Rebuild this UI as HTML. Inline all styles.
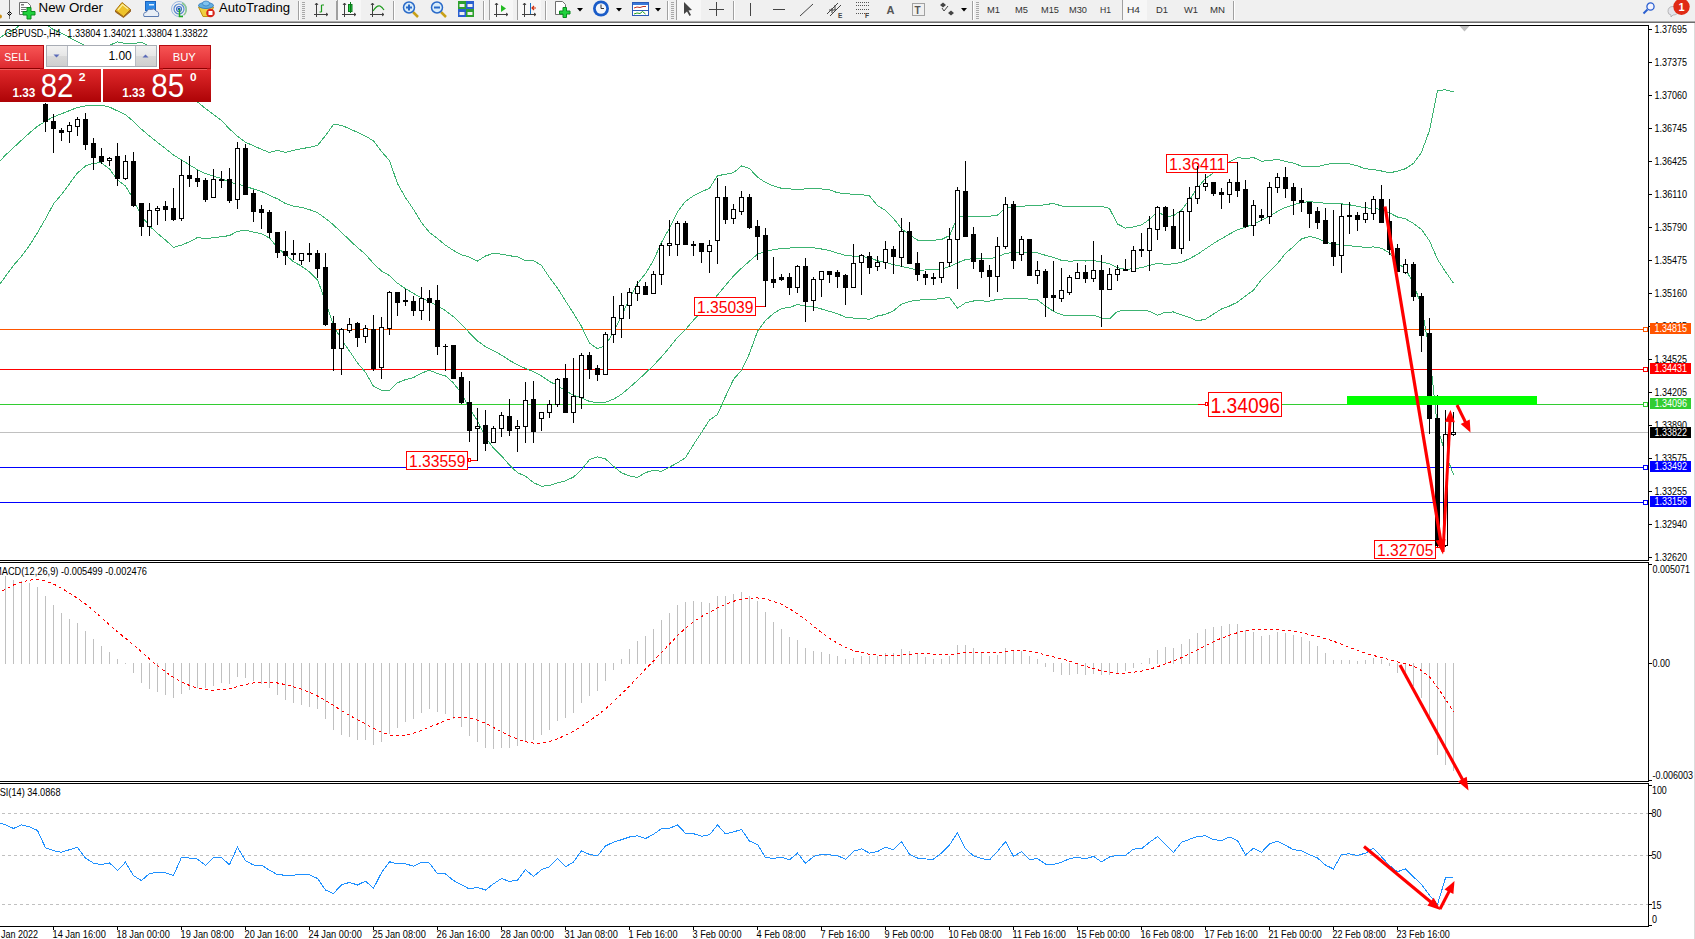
<!DOCTYPE html><html><head><meta charset="utf-8"><title>GBPUSD H4</title>
<style>html,body{margin:0;padding:0;background:#fff;width:1695px;height:939px;overflow:hidden}
svg{display:block;font-family:"Liberation Sans", sans-serif} text{font-family:"Liberation Sans", sans-serif}</style></head><body>
<svg width="1695" height="939" viewBox="0 0 1695 939">
<defs>
<linearGradient id="gbtn" x1="0" y1="0" x2="0" y2="1"><stop offset="0" stop-color="#f75454"/><stop offset="1" stop-color="#dd2a30"/></linearGradient>
<linearGradient id="gpx" x1="0" y1="0" x2="0" y2="1"><stop offset="0" stop-color="#e0292b"/><stop offset="1" stop-color="#ad0306"/></linearGradient>
<linearGradient id="gspin" x1="0" y1="0" x2="0" y2="1"><stop offset="0" stop-color="#f2f2f2"/><stop offset="0.5" stop-color="#e6e6e6"/><stop offset="0.5" stop-color="#d9d9d9"/><stop offset="1" stop-color="#cfcfcf"/></linearGradient>
</defs>
<rect x="0" y="0" width="1695" height="939" fill="#fff"/>

<g id="toolbar">
<rect x="0" y="0" width="1695" height="21" fill="#f0f0f0"/>
<rect x="0" y="21" width="1695" height="1" fill="#a9a9a9"/>
<rect x="0" y="22" width="1695" height="1" fill="#6d6d6d"/>
<g shape-rendering="geometricPrecision">
<circle cx="0" cy="16.5" r="2" fill="#c8901c"/>
<rect x="9" y="0" width="1" height="19" fill="#7a7a7a"/>
<path d="M7.5 13.5 L9.5 11.5 L11.5 13.5 L9.5 15.5Z" fill="none" stroke="#000" stroke-width="1"/>
<path d="M19.5 2.5 h8 l3 3 v9 h-11z" fill="#fff" stroke="#6e6e6e" stroke-width="1"/>
<rect x="21" y="4" width="3" height="1.5" fill="#777"/><rect x="21" y="7" width="6" height="1" fill="#777"/><rect x="21" y="9" width="5" height="1" fill="#777"/><rect x="21" y="11" width="4" height="1" fill="#777"/>
<path d="M27 7.5 h4 v4 h4 v3.5 h-4 v4 h-4 v-4 h-4 v-3.5 h4z" fill="#1ed23c" stroke="#0a8a1e" stroke-width="1"/>
<text x="38.5" y="12.2" font-size="12.3" fill="#000" font-family="Liberation Sans, sans-serif" textLength="64.5" lengthAdjust="spacingAndGlyphs">New Order</text>
<path d="M115.5 10.5 L123.5 16.5 L130.5 9.5 L130.5 11.5 L123.5 17.5 L115.5 12 Z" fill="#b87818" stroke="#8a5010" stroke-width="0.8"/>
<path d="M115.5 10.5 L122 2.5 L130.5 9.5 L123.5 16.5 Z" fill="#eec22a" stroke="#a87010" stroke-width="1"/>
<path d="M118 10 L122.5 4.5 L128 9" fill="none" stroke="#faf0a0" stroke-width="1.2"/>
<rect x="145.5" y="1.5" width="10" height="9" fill="#2e8ae6" stroke="#1a64c0"/>
<rect x="149" y="4" width="5" height="1.5" fill="#e0f0ff"/>
<path d="M144 16.5 Q142.5 12.5 146.5 12 Q147.5 8.5 151.5 9.5 Q154 7.5 156 11 Q159.5 11.5 158.5 16.5 Z" fill="#e8eef6" stroke="#5a7ab0" stroke-width="1"/>
<circle cx="179" cy="9" r="7.5" fill="none" stroke="#9ab8e0" stroke-width="1"/>
<circle cx="179" cy="9" r="5" fill="none" stroke="#5a88d0" stroke-width="1.2"/>
<circle cx="179" cy="9" r="2.5" fill="none" stroke="#3a70c8" stroke-width="1.2"/>
<circle cx="179" cy="9" r="1.3" fill="#1a50c0"/>
<path d="M179.5 9 V16.5 H183" fill="none" stroke="#22aa22" stroke-width="1.5"/>
<path d="M182 3 A7.5 7.5 0 0 1 184 15" fill="none" stroke="#8cc890" stroke-width="1.5"/>
<path d="M198.5 7 L213.5 7 L210 16.5 L203 16.5 Z" fill="#f0d040" stroke="#c09010" stroke-width="1"/>
<ellipse cx="206" cy="5.5" rx="7.5" ry="3" fill="#60aee0" stroke="#3a80c0" stroke-width="1"/>
<ellipse cx="206" cy="3.5" rx="3.5" ry="2.5" fill="#80c4f0" stroke="#3a80c0" stroke-width="0.8"/>
<circle cx="210.5" cy="13" r="4.3" fill="#d8261a"/><rect x="208.5" y="11" width="4" height="4" fill="#fff"/>
<text x="219" y="12.2" font-size="12.3" fill="#000" font-family="Liberation Sans, sans-serif" textLength="71" lengthAdjust="spacingAndGlyphs">AutoTrading</text>
<rect x="298" y="1" width="1" height="19" fill="#a0a0a0"/><rect x="299" y="1" width="1" height="19" fill="#ffffff"/>
<rect x="302" y="2" width="3" height="1" fill="#a8a8a8"/>
<rect x="302" y="4" width="3" height="1" fill="#a8a8a8"/>
<rect x="302" y="6" width="3" height="1" fill="#a8a8a8"/>
<rect x="302" y="8" width="3" height="1" fill="#a8a8a8"/>
<rect x="302" y="10" width="3" height="1" fill="#a8a8a8"/>
<rect x="302" y="12" width="3" height="1" fill="#a8a8a8"/>
<rect x="302" y="14" width="3" height="1" fill="#a8a8a8"/>
<rect x="302" y="16" width="3" height="1" fill="#a8a8a8"/>
<rect x="302" y="18" width="3" height="1" fill="#a8a8a8"/>
<path d="M316.5 3 V17 M314 14.5 H328" stroke="#404040" stroke-width="1" fill="none"/>
<path d="M315 5 L316.5 3 L318 5 M326 13 L328 14.5 L326 16" stroke="#404040" stroke-width="1" fill="none"/>
<path d="M321.5 12 H319.5 M321.5 5 V12 M321.5 5 H324" stroke="#1a9a1a" stroke-width="1.2" fill="none"/>
<rect x="336" y="1" width="1" height="19" fill="#a0a0a0"/><rect x="337" y="1" width="1" height="19" fill="#ffffff"/>
<rect x="337" y="0" width="24" height="20" fill="#f7f7f7"/><rect x="337" y="0" width="1" height="20" fill="#a0a0a0"/>
<path d="M344.5 3 V17 M342 14.5 H356" stroke="#404040" stroke-width="1" fill="none"/>
<path d="M343 5 L344.5 3 L346 5 M354 13 L356 14.5 L354 16" stroke="#404040" stroke-width="1" fill="none"/>
<rect x="348.5" y="4.5" width="3.5" height="7" fill="#22cc44" stroke="#0a7a1a"/><rect x="350" y="2" width="1" height="11" fill="#0a7a1a"/>
<path d="M372.5 3 V17 M370 14.5 H384" stroke="#404040" stroke-width="1" fill="none"/>
<path d="M371 5 L372.5 3 L374 5 M382 13 L384 14.5 L382 16" stroke="#404040" stroke-width="1" fill="none"/>
<path d="M373 11 Q377 5 380 6 Q382 7 384 10" stroke="#1a9a1a" stroke-width="1.2" fill="none"/>
<rect x="393" y="1" width="1" height="19" fill="#a0a0a0"/><rect x="394" y="1" width="1" height="19" fill="#ffffff"/>
<line x1="413" y1="12" x2="418" y2="17" stroke="#c8a018" stroke-width="2.5"/>
<circle cx="409" cy="7.5" r="5.5" fill="#d8ecfa" stroke="#2a6ac8" stroke-width="1.5"/>
<rect x="406" y="6.5" width="6" height="2" fill="#2a6ac8"/>
<rect x="408" y="4.5" width="2" height="6" fill="#2a6ac8"/>
<line x1="441" y1="12" x2="446" y2="17" stroke="#c8a018" stroke-width="2.5"/>
<circle cx="437" cy="7.5" r="5.5" fill="#d8ecfa" stroke="#2a6ac8" stroke-width="1.5"/>
<rect x="434" y="6.5" width="6" height="2" fill="#2a6ac8"/>
<rect x="458" y="1" width="8" height="8" fill="#2ea02e"/><rect x="466" y="1" width="8" height="8" fill="#2a60d0"/><rect x="458" y="9" width="8" height="8" fill="#2a60d0"/><rect x="466" y="9" width="8" height="8" fill="#2ea02e"/>
<rect x="459.5" y="4" width="5" height="3" fill="#f0f0f0"/>
<rect x="467.5" y="4" width="5" height="3" fill="#f0f0f0"/>
<rect x="459.5" y="12" width="5" height="3" fill="#f0f0f0"/>
<rect x="467.5" y="12" width="5" height="3" fill="#f0f0f0"/>
<rect x="483" y="1" width="1" height="19" fill="#a0a0a0"/><rect x="484" y="1" width="1" height="19" fill="#ffffff"/>
<rect x="489" y="0" width="24" height="20" fill="#f7f7f7"/><rect x="489" y="0" width="1" height="20" fill="#a0a0a0"/>
<path d="M496.5 3 V17 M494 14.5 H508" stroke="#404040" stroke-width="1" fill="none"/>
<path d="M495 5 L496.5 3 L498 5 M506 13 L508 14.5 L506 16" stroke="#404040" stroke-width="1" fill="none"/>
<polygon points="501,5 506,8.5 501,12" fill="#22bb22"/>
<rect x="517" y="0" width="24" height="20" fill="#f7f7f7"/><rect x="517" y="0" width="1" height="20" fill="#a0a0a0"/>
<path d="M524.5 3 V17 M522 14.5 H536" stroke="#404040" stroke-width="1" fill="none"/>
<path d="M523 5 L524.5 3 L526 5 M534 13 L536 14.5 L534 16" stroke="#404040" stroke-width="1" fill="none"/>
<rect x="530" y="3" width="1" height="11" fill="#1a70c0"/><path d="M536 8 H532 M534 6 L532 8 L534 10" stroke="#d03010" stroke-width="1.2" fill="none"/>
<rect x="545" y="1" width="1" height="19" fill="#a0a0a0"/><rect x="546" y="1" width="1" height="19" fill="#ffffff"/>
<path d="M555.5 1.5 h7 l3 3 v10 h-10z" fill="#fff" stroke="#6e6e6e" stroke-width="1"/>
<path d="M563 7.5 h3.5 v3.5 h3.5 v3 h-3.5 v3.5 h-3.5 v-3.5 h-3.5 v-3 h3.5z" fill="#1ed23c" stroke="#0a8a1e" stroke-width="1"/>
<polygon points="577,8 583,8 580,11.5" fill="#000"/>
<circle cx="601" cy="8.5" r="8" fill="#1a5cc8"/><circle cx="601" cy="8.5" r="5.2" fill="#f4f6fa"/><path d="M601 4.5 V8.5 H604" stroke="#333" stroke-width="1" fill="none"/>
<polygon points="616,8 622,8 619,11.5" fill="#000"/>
<rect x="632.5" y="2.5" width="16" height="13" fill="#fff" stroke="#2a5ab8" stroke-width="1"/><rect x="633" y="3" width="15" height="2" fill="#3a78d8"/>
<rect x="633" y="10" width="15" height="1" fill="#2a5ab8"/><path d="M634 8 L637 7 L640 7.5 L643 6.5 L646 6.5" stroke="#c03020" stroke-width="1" fill="none"/><path d="M634 14 L637 13 L640 13.5 L642.5 11.5 L645.5 14" stroke="#20a020" stroke-width="1" fill="none"/>
<polygon points="655,8 661,8 658,11.5" fill="#000"/>
<rect x="667" y="1" width="1" height="19" fill="#a0a0a0"/><rect x="668" y="1" width="1" height="19" fill="#ffffff"/>
<rect x="671" y="2" width="3" height="1" fill="#a8a8a8"/>
<rect x="671" y="4" width="3" height="1" fill="#a8a8a8"/>
<rect x="671" y="6" width="3" height="1" fill="#a8a8a8"/>
<rect x="671" y="8" width="3" height="1" fill="#a8a8a8"/>
<rect x="671" y="10" width="3" height="1" fill="#a8a8a8"/>
<rect x="671" y="12" width="3" height="1" fill="#a8a8a8"/>
<rect x="671" y="14" width="3" height="1" fill="#a8a8a8"/>
<rect x="671" y="16" width="3" height="1" fill="#a8a8a8"/>
<rect x="671" y="18" width="3" height="1" fill="#a8a8a8"/>
<rect x="676" y="0" width="25" height="20" fill="#f7f7f7"/><rect x="676" y="0" width="1" height="20" fill="#a0a0a0"/>
<path d="M684 2 L684 14 L687 11.5 L689.5 16 L691 15 L688.5 10.5 L692 10 Z" fill="#444"/>
<path d="M716.5 2 V16 M709 9.5 H724" stroke="#444" stroke-width="1" fill="none"/>
<rect x="733" y="1" width="1" height="19" fill="#a0a0a0"/><rect x="734" y="1" width="1" height="19" fill="#ffffff"/>
<rect x="750" y="3" width="1" height="13" fill="#444"/>
<rect x="773" y="9" width="12" height="1" fill="#444"/>
<line x1="800" y1="16" x2="813" y2="4" stroke="#444" stroke-width="1"/>
<path d="M827 14 L838 3 M830 16 L841 5 M829 10 H836 M832 8 V13 M835 5 V10" stroke="#444" stroke-width="1" fill="none"/>
<text x="838" y="18" font-size="6.5" font-weight="bold" fill="#444" font-family="Liberation Sans, sans-serif">E</text>
<rect x="856" y="2" width="1" height="1" fill="#555"/>
<rect x="858" y="2" width="1" height="1" fill="#555"/>
<rect x="860" y="2" width="1" height="1" fill="#555"/>
<rect x="862" y="2" width="1" height="1" fill="#555"/>
<rect x="864" y="2" width="1" height="1" fill="#555"/>
<rect x="866" y="2" width="1" height="1" fill="#555"/>
<rect x="868" y="2" width="1" height="1" fill="#555"/>
<rect x="856" y="5" width="1" height="1" fill="#555"/>
<rect x="858" y="5" width="1" height="1" fill="#555"/>
<rect x="860" y="5" width="1" height="1" fill="#555"/>
<rect x="862" y="5" width="1" height="1" fill="#555"/>
<rect x="864" y="5" width="1" height="1" fill="#555"/>
<rect x="866" y="5" width="1" height="1" fill="#555"/>
<rect x="868" y="5" width="1" height="1" fill="#555"/>
<rect x="856" y="9" width="1" height="1" fill="#555"/>
<rect x="858" y="9" width="1" height="1" fill="#555"/>
<rect x="860" y="9" width="1" height="1" fill="#555"/>
<rect x="862" y="9" width="1" height="1" fill="#555"/>
<rect x="864" y="9" width="1" height="1" fill="#555"/>
<rect x="866" y="9" width="1" height="1" fill="#555"/>
<rect x="868" y="9" width="1" height="1" fill="#555"/>
<rect x="856" y="13" width="1" height="1" fill="#555"/>
<rect x="858" y="13" width="1" height="1" fill="#555"/>
<rect x="860" y="13" width="1" height="1" fill="#555"/>
<rect x="862" y="13" width="1" height="1" fill="#555"/>
<rect x="864" y="13" width="1" height="1" fill="#555"/>
<rect x="866" y="13" width="1" height="1" fill="#555"/>
<rect x="868" y="13" width="1" height="1" fill="#555"/>
<text x="865" y="18" font-size="6.5" font-weight="bold" fill="#444" font-family="Liberation Sans, sans-serif">F</text>
<text x="886.5" y="14" font-size="11" font-weight="bold" fill="#555" font-family="Liberation Sans, sans-serif">A</text>
<rect x="912.5" y="3.5" width="12" height="12" fill="none" stroke="#555" stroke-width="1" stroke-dasharray="1,1"/>
<text x="914.5" y="13.5" font-size="10" font-weight="bold" fill="#555" font-family="Liberation Sans, sans-serif">T</text>
<path d="M940 5 L943 2.5 L946 5 L943 7.5Z M948 13 L951 10.5 L954 13 L951 15.5Z" fill="#444"/><path d="M942 8 L944 11 L948 6" stroke="#444" stroke-width="1" fill="none"/>
<polygon points="961,8 967,8 964,11.5" fill="#000"/>
<rect x="972" y="1" width="1" height="19" fill="#a0a0a0"/><rect x="973" y="1" width="1" height="19" fill="#ffffff"/>
<rect x="976" y="2" width="3" height="1" fill="#a8a8a8"/>
<rect x="976" y="4" width="3" height="1" fill="#a8a8a8"/>
<rect x="976" y="6" width="3" height="1" fill="#a8a8a8"/>
<rect x="976" y="8" width="3" height="1" fill="#a8a8a8"/>
<rect x="976" y="10" width="3" height="1" fill="#a8a8a8"/>
<rect x="976" y="12" width="3" height="1" fill="#a8a8a8"/>
<rect x="976" y="14" width="3" height="1" fill="#a8a8a8"/>
<rect x="976" y="16" width="3" height="1" fill="#a8a8a8"/>
<rect x="976" y="18" width="3" height="1" fill="#a8a8a8"/>
<rect x="1122" y="0" width="25" height="20" fill="#f7f7f7"/><rect x="1122" y="0" width="1" height="20" fill="#a0a0a0"/>
<text x="987" y="13" font-size="9.8" fill="#333" font-family="Liberation Sans, sans-serif" textLength="13" lengthAdjust="spacingAndGlyphs">M1</text>
<text x="1015" y="13" font-size="9.8" fill="#333" font-family="Liberation Sans, sans-serif" textLength="13" lengthAdjust="spacingAndGlyphs">M5</text>
<text x="1041" y="13" font-size="9.8" fill="#333" font-family="Liberation Sans, sans-serif" textLength="18" lengthAdjust="spacingAndGlyphs">M15</text>
<text x="1069" y="13" font-size="9.8" fill="#333" font-family="Liberation Sans, sans-serif" textLength="18" lengthAdjust="spacingAndGlyphs">M30</text>
<text x="1100" y="13" font-size="9.8" fill="#333" font-family="Liberation Sans, sans-serif" textLength="11" lengthAdjust="spacingAndGlyphs">H1</text>
<text x="1127" y="13" font-size="9.8" fill="#333" font-family="Liberation Sans, sans-serif" textLength="13" lengthAdjust="spacingAndGlyphs">H4</text>
<text x="1156" y="13" font-size="9.8" fill="#333" font-family="Liberation Sans, sans-serif" textLength="12" lengthAdjust="spacingAndGlyphs">D1</text>
<text x="1184" y="13" font-size="9.8" fill="#333" font-family="Liberation Sans, sans-serif" textLength="14" lengthAdjust="spacingAndGlyphs">W1</text>
<text x="1210" y="13" font-size="9.8" fill="#333" font-family="Liberation Sans, sans-serif" textLength="15" lengthAdjust="spacingAndGlyphs">MN</text>
<rect x="1233" y="1" width="1" height="19" fill="#a0a0a0"/><rect x="1234" y="1" width="1" height="19" fill="#ffffff"/>
<line x1="1647.5" y1="9.5" x2="1643.5" y2="13.5" stroke="#2a5fd0" stroke-width="2"/><circle cx="1650.5" cy="6.5" r="3.6" fill="#f4f4ff" stroke="#2a5fd0" stroke-width="1.3"/>
<path d="M1668 11.5 Q1668 6.5 1673 6.5 Q1678 6.5 1678 11 Q1678 15 1673 15 L1671 17 L1671 15 Q1668 14.5 1668 11.5Z" fill="#e4e4ea" stroke="#a8a8a8" stroke-width="0.8"/>
<circle cx="1681.5" cy="6.8" r="8.2" fill="#e02a14"/>
<text x="1681.5" y="11" font-size="11" font-weight="bold" fill="#fff" text-anchor="middle" font-family="Liberation Serif, serif">1</text>
</g>
</g>
<rect x="1694" y="23" width="1" height="916" fill="#dcdcdc"/>
<g shape-rendering="crispEdges">
<rect x="0" y="25" width="1649" height="1" fill="#000"/>
<rect x="1648" y="25" width="1" height="536" fill="#000"/>
<rect x="0" y="560" width="1649" height="1" fill="#000"/>
<rect x="0" y="562" width="1649" height="1" fill="#000"/>
<rect x="1648" y="562" width="1" height="220" fill="#000"/>
<rect x="0" y="781" width="1649" height="1" fill="#000"/>
<rect x="0" y="783" width="1649" height="1" fill="#000"/>
<rect x="1648" y="783" width="1" height="144" fill="#000"/>
<rect x="0" y="926" width="1649" height="1" fill="#000"/>
</g>
<g shape-rendering="crispEdges">
<rect x="1649" y="29" width="3" height="1" fill="#000"/>
<rect x="1649" y="62" width="3" height="1" fill="#000"/>
<rect x="1649" y="95" width="3" height="1" fill="#000"/>
<rect x="1649" y="128" width="3" height="1" fill="#000"/>
<rect x="1649" y="161" width="3" height="1" fill="#000"/>
<rect x="1649" y="194" width="3" height="1" fill="#000"/>
<rect x="1649" y="227" width="3" height="1" fill="#000"/>
<rect x="1649" y="260" width="3" height="1" fill="#000"/>
<rect x="1649" y="293" width="3" height="1" fill="#000"/>
<rect x="1649" y="326" width="3" height="1" fill="#000"/>
<rect x="1649" y="359" width="3" height="1" fill="#000"/>
<rect x="1649" y="392" width="3" height="1" fill="#000"/>
<rect x="1649" y="425" width="3" height="1" fill="#000"/>
<rect x="1649" y="458" width="3" height="1" fill="#000"/>
<rect x="1649" y="491" width="3" height="1" fill="#000"/>
<rect x="1649" y="524" width="3" height="1" fill="#000"/>
<rect x="1649" y="557" width="3" height="1" fill="#000"/>
</g>
<text x="1654.5" y="33.1" font-size="10.4" fill="#000" textLength="32.5" lengthAdjust="spacingAndGlyphs">1.37695</text>
<text x="1654.5" y="66.4" font-size="10.4" fill="#000" textLength="32.5" lengthAdjust="spacingAndGlyphs">1.37375</text>
<text x="1654.5" y="99.2" font-size="10.4" fill="#000" textLength="32.5" lengthAdjust="spacingAndGlyphs">1.37060</text>
<text x="1654.5" y="131.9" font-size="10.4" fill="#000" textLength="32.5" lengthAdjust="spacingAndGlyphs">1.36745</text>
<text x="1654.5" y="165.2" font-size="10.4" fill="#000" textLength="32.5" lengthAdjust="spacingAndGlyphs">1.36425</text>
<text x="1654.5" y="198.0" font-size="10.4" fill="#000" textLength="32.5" lengthAdjust="spacingAndGlyphs">1.36110</text>
<text x="1654.5" y="231.3" font-size="10.4" fill="#000" textLength="32.5" lengthAdjust="spacingAndGlyphs">1.35790</text>
<text x="1654.5" y="264.1" font-size="10.4" fill="#000" textLength="32.5" lengthAdjust="spacingAndGlyphs">1.35475</text>
<text x="1654.5" y="296.8" font-size="10.4" fill="#000" textLength="32.5" lengthAdjust="spacingAndGlyphs">1.35160</text>
<text x="1654.5" y="329.6" font-size="10.4" fill="#000" textLength="32.5" lengthAdjust="spacingAndGlyphs">1.34845</text>
<text x="1654.5" y="362.9" font-size="10.4" fill="#000" textLength="32.5" lengthAdjust="spacingAndGlyphs">1.34525</text>
<text x="1654.5" y="396.2" font-size="10.4" fill="#000" textLength="32.5" lengthAdjust="spacingAndGlyphs">1.34205</text>
<text x="1654.5" y="429.0" font-size="10.4" fill="#000" textLength="32.5" lengthAdjust="spacingAndGlyphs">1.33890</text>
<text x="1654.5" y="461.7" font-size="10.4" fill="#000" textLength="32.5" lengthAdjust="spacingAndGlyphs">1.33575</text>
<text x="1654.5" y="495.0" font-size="10.4" fill="#000" textLength="32.5" lengthAdjust="spacingAndGlyphs">1.33255</text>
<text x="1654.5" y="527.8" font-size="10.4" fill="#000" textLength="32.5" lengthAdjust="spacingAndGlyphs">1.32940</text>
<text x="1654.5" y="561.1" font-size="10.4" fill="#000" textLength="32.5" lengthAdjust="spacingAndGlyphs">1.32620</text>
<clipPath id="cm"><rect x="0" y="26" width="1648" height="534"/></clipPath>
<clipPath id="cmacd"><rect x="0" y="563" width="1648" height="218"/></clipPath>
<clipPath id="crsi"><rect x="0" y="784" width="1648" height="142"/></clipPath>
<g clip-path="url(#cm)">
<g shape-rendering="crispEdges">
<rect x="0" y="329" width="1648" height="1" fill="#ff5500"/>
<rect x="1643.5" y="327.5" width="4" height="4" fill="#fff" stroke="#ff5500" stroke-width="1"/>
<rect x="0" y="369" width="1648" height="1" fill="#ff0000"/>
<rect x="1643.5" y="367.5" width="4" height="4" fill="#fff" stroke="#ff0000" stroke-width="1"/>
<rect x="0" y="404" width="1648" height="1" fill="#32cd32"/>
<rect x="1643.5" y="402.5" width="4" height="4" fill="#fff" stroke="#32cd32" stroke-width="1"/>
<rect x="0" y="432" width="1648" height="1" fill="#c0c0c0"/>
<rect x="0" y="467" width="1648" height="1" fill="#0000ff"/>
<rect x="1643.5" y="465.5" width="4" height="4" fill="#fff" stroke="#0000ff" stroke-width="1"/>
<rect x="0" y="502" width="1648" height="1" fill="#0000ff"/>
<rect x="1643.5" y="500.5" width="4" height="4" fill="#fff" stroke="#0000ff" stroke-width="1"/>
</g>
<polyline points="-2.5,39.7 5.5,33.9 13.5,30.0 21.5,24.1 29.5,20.6 37.5,19.6 45.5,23.7 53.5,29.7 61.5,33.2 69.5,37.5 77.5,41.9 85.5,45.7 93.5,47.4 101.5,47.5 109.5,45.3 117.5,41.9 125.5,43.4 133.5,43.5 141.5,42.4 149.5,46.0 157.5,51.3 165.5,57.1 173.5,62.6 181.5,74.8 189.5,88.0 197.5,101.9 205.5,108.5 213.5,114.5 221.5,120.4 229.5,129.0 237.5,136.2 245.5,142.2 253.5,145.8 261.5,149.3 269.5,152.5 277.5,150.4 285.5,152.5 293.5,150.4 301.5,148.6 309.5,147.4 317.5,145.5 325.5,135.5 333.5,124.5 341.5,125.3 349.5,128.7 357.5,132.4 365.5,136.1 373.5,140.9 381.5,151.6 389.5,160.5 397.5,183.6 405.5,197.6 413.5,209.5 421.5,222.6 429.5,232.5 437.5,238.5 445.5,245.2 453.5,250.5 461.5,254.8 469.5,257.1 477.5,261.1 485.5,256.0 493.5,253.3 501.5,254.2 509.5,255.7 517.5,256.9 525.5,260.9 533.5,260.6 541.5,265.5 549.5,277.5 557.5,288.0 565.5,300.9 573.5,313.3 581.5,326.4 589.5,343.1 597.5,348.7 605.5,345.5 613.5,332.1 621.5,315.7 629.5,299.0 637.5,283.6 645.5,273.5 653.5,260.4 661.5,242.4 669.5,228.0 677.5,211.9 685.5,201.3 693.5,195.8 701.5,191.8 709.5,188.3 717.5,175.6 725.5,174.4 733.5,172.7 741.5,166.0 749.5,168.6 757.5,177.1 765.5,182.5 773.5,185.9 781.5,188.3 789.5,188.8 797.5,189.7 805.5,188.8 813.5,188.6 821.5,189.0 829.5,189.7 837.5,192.8 845.5,193.4 853.5,194.4 861.5,194.7 869.5,195.8 877.5,205.7 885.5,210.3 893.5,218.5 901.5,228.6 909.5,234.9 917.5,240.1 925.5,240.1 933.5,240.2 941.5,239.5 949.5,235.6 957.5,217.4 965.5,216.2 973.5,216.3 981.5,216.3 989.5,216.2 997.5,215.2 1005.5,207.4 1013.5,207.3 1021.5,206.1 1029.5,205.9 1037.5,205.8 1045.5,204.6 1053.5,203.4 1061.5,206.0 1069.5,206.2 1077.5,206.2 1085.5,206.2 1093.5,206.1 1101.5,206.1 1109.5,208.6 1117.5,224.0 1125.5,228.1 1133.5,226.9 1141.5,224.9 1149.5,219.4 1157.5,211.4 1165.5,216.8 1173.5,215.7 1181.5,210.1 1189.5,199.7 1197.5,187.9 1205.5,178.4 1213.5,172.9 1221.5,168.5 1229.5,162.0 1237.5,157.6 1245.5,158.5 1253.5,157.6 1261.5,161.2 1269.5,160.6 1277.5,159.2 1285.5,161.4 1293.5,163.2 1301.5,166.1 1309.5,167.0 1317.5,166.7 1325.5,164.7 1333.5,163.2 1341.5,163.2 1349.5,163.8 1357.5,165.9 1365.5,168.8 1373.5,169.5 1381.5,171.0 1389.5,172.9 1397.5,171.1 1405.5,168.7 1413.5,163.4 1421.5,152.3 1429.5,130.4 1437.5,90.3 1445.5,89.9 1453.5,91.9" fill="none" stroke="#3cb371" stroke-width="1" shape-rendering="crispEdges"/>
<polyline points="-2.5,163.5 5.5,155.1 13.5,147.7 21.5,140.2 29.5,133.0 37.5,126.2 45.5,121.3 53.5,116.8 61.5,113.8 69.5,110.6 77.5,107.4 85.5,105.9 93.5,105.3 101.5,105.2 109.5,107.1 117.5,110.9 125.5,114.7 133.5,121.5 141.5,129.2 149.5,136.0 157.5,142.4 165.5,148.6 173.5,155.0 181.5,160.0 189.5,164.9 197.5,169.7 205.5,173.6 213.5,176.1 221.5,178.6 229.5,182.3 237.5,183.8 245.5,186.3 253.5,189.0 261.5,191.5 269.5,195.2 277.5,198.9 285.5,203.6 293.5,206.1 301.5,207.4 309.5,209.6 317.5,212.7 325.5,218.4 333.5,224.9 341.5,232.6 349.5,239.9 357.5,247.7 365.5,254.2 373.5,263.6 381.5,271.0 389.5,275.6 397.5,283.2 405.5,288.6 413.5,293.5 421.5,297.9 429.5,301.4 437.5,306.0 445.5,310.6 453.5,316.8 461.5,324.2 469.5,332.9 477.5,340.9 485.5,346.8 493.5,350.7 501.5,355.1 509.5,360.4 517.5,364.8 525.5,368.5 533.5,371.6 541.5,375.9 549.5,381.5 557.5,385.4 565.5,390.9 573.5,395.2 581.5,398.0 589.5,401.4 597.5,402.8 605.5,402.2 613.5,399.2 621.5,394.3 629.5,387.5 637.5,380.5 645.5,373.1 653.5,365.4 661.5,356.9 669.5,347.5 677.5,337.4 685.5,329.5 693.5,320.2 701.5,312.1 709.5,304.2 717.5,295.1 725.5,285.4 733.5,276.1 741.5,268.2 749.5,261.1 757.5,254.2 765.5,251.5 773.5,249.7 781.5,248.4 789.5,248.1 797.5,247.1 805.5,247.5 813.5,247.7 821.5,249.0 829.5,250.5 837.5,253.2 845.5,255.3 853.5,256.2 861.5,256.5 869.5,257.6 877.5,260.8 885.5,262.4 893.5,264.7 901.5,266.4 909.5,268.2 917.5,270.1 925.5,270.0 933.5,269.8 941.5,269.0 949.5,266.6 957.5,262.8 965.5,259.6 973.5,258.6 981.5,258.6 989.5,258.7 997.5,257.2 1005.5,253.1 1013.5,252.9 1021.5,252.1 1029.5,252.6 1037.5,252.9 1045.5,255.3 1053.5,257.4 1061.5,260.4 1069.5,261.1 1077.5,260.9 1085.5,261.0 1093.5,260.6 1101.5,262.0 1109.5,263.7 1117.5,267.7 1125.5,269.3 1133.5,268.8 1141.5,267.7 1149.5,265.3 1157.5,263.3 1165.5,264.4 1173.5,263.8 1181.5,262.4 1189.5,258.6 1197.5,254.4 1205.5,248.8 1213.5,243.5 1221.5,238.7 1229.5,234.0 1237.5,229.9 1245.5,227.2 1253.5,224.0 1261.5,220.4 1269.5,216.0 1277.5,211.4 1285.5,207.4 1293.5,204.8 1301.5,202.5 1309.5,201.7 1317.5,202.5 1325.5,203.3 1333.5,203.7 1341.5,203.9 1349.5,204.8 1357.5,206.4 1365.5,207.9 1373.5,208.3 1381.5,209.6 1389.5,212.9 1397.5,217.0 1405.5,218.9 1413.5,223.5 1421.5,229.4 1429.5,240.9 1437.5,259.3 1445.5,271.7 1453.5,283.3" fill="none" stroke="#3cb371" stroke-width="1" shape-rendering="crispEdges"/>
<polyline points="-2.5,287.4 5.5,276.3 13.5,265.4 21.5,256.3 29.5,245.4 37.5,232.7 45.5,218.8 53.5,203.9 61.5,194.4 69.5,183.7 77.5,173.0 85.5,166.0 93.5,163.1 101.5,162.9 109.5,168.9 117.5,179.9 125.5,185.9 133.5,199.5 141.5,216.0 149.5,225.9 157.5,233.5 165.5,240.0 173.5,247.4 181.5,245.1 189.5,241.8 197.5,237.5 205.5,238.6 213.5,237.8 221.5,236.7 229.5,235.6 237.5,231.3 245.5,230.3 253.5,232.1 261.5,233.8 269.5,238.0 277.5,247.5 285.5,254.7 293.5,261.7 301.5,266.2 309.5,271.9 317.5,279.8 325.5,301.3 333.5,325.3 341.5,339.9 349.5,351.1 357.5,363.0 365.5,372.3 373.5,386.3 381.5,390.3 389.5,390.7 397.5,382.8 405.5,379.6 413.5,377.6 421.5,373.1 429.5,370.2 437.5,373.6 445.5,375.9 453.5,383.0 461.5,393.6 469.5,408.8 477.5,420.6 485.5,437.5 493.5,448.2 501.5,455.9 509.5,465.1 517.5,472.7 525.5,476.1 533.5,482.6 541.5,486.3 549.5,485.5 557.5,482.8 565.5,480.8 573.5,477.1 581.5,469.6 589.5,459.7 597.5,456.8 605.5,458.9 613.5,466.3 621.5,472.9 629.5,475.9 637.5,477.4 645.5,472.6 653.5,470.3 661.5,471.4 669.5,467.1 677.5,462.8 685.5,457.8 693.5,444.6 701.5,432.5 709.5,420.0 717.5,414.5 725.5,396.5 733.5,379.4 741.5,370.3 749.5,353.5 757.5,331.3 765.5,320.5 773.5,313.5 781.5,308.5 789.5,307.5 797.5,304.5 805.5,306.1 813.5,306.8 821.5,309.0 829.5,311.4 837.5,313.6 845.5,317.3 853.5,318.1 861.5,318.3 869.5,319.3 877.5,316.0 885.5,314.4 893.5,310.8 901.5,304.2 909.5,301.4 917.5,300.1 925.5,299.8 933.5,299.4 941.5,298.4 949.5,297.6 957.5,308.2 965.5,302.9 973.5,301.0 981.5,300.9 989.5,301.2 997.5,299.3 1005.5,298.9 1013.5,298.6 1021.5,298.1 1029.5,299.2 1037.5,300.0 1045.5,306.1 1053.5,311.4 1061.5,314.8 1069.5,315.9 1077.5,315.7 1085.5,315.8 1093.5,315.1 1101.5,317.9 1109.5,318.9 1117.5,311.3 1125.5,310.5 1133.5,310.6 1141.5,310.4 1149.5,311.2 1157.5,315.3 1165.5,312.1 1173.5,312.0 1181.5,314.8 1189.5,317.5 1197.5,320.9 1205.5,319.1 1213.5,314.1 1221.5,309.0 1229.5,306.0 1237.5,302.1 1245.5,295.9 1253.5,290.3 1261.5,279.6 1269.5,271.4 1277.5,263.6 1285.5,253.4 1293.5,246.5 1301.5,238.9 1309.5,236.5 1317.5,238.3 1325.5,241.9 1333.5,244.2 1341.5,244.7 1349.5,245.7 1357.5,246.9 1365.5,247.1 1373.5,247.0 1381.5,248.3 1389.5,253.0 1397.5,262.9 1405.5,269.1 1413.5,283.5 1421.5,306.4 1429.5,351.4 1437.5,428.3 1445.5,453.5 1453.5,474.7" fill="none" stroke="#3cb371" stroke-width="1" shape-rendering="crispEdges"/>
</g>
<g clip-path="url(#cm)">
<rect x="1228" y="162" width="10" height="1" fill="#ff0000" shape-rendering="crispEdges"/>
<rect x="1166.5" y="154.5" width="61" height="18" fill="#fff" stroke="#ff0000" stroke-width="1" shape-rendering="crispEdges"/>
<text x="1169" y="170" font-size="16.5" fill="#ff0000" textLength="56.5" lengthAdjust="spacingAndGlyphs">1.36411</text>
<rect x="756" y="306" width="10" height="1" fill="#ff0000" shape-rendering="crispEdges"/>
<rect x="694.5" y="297.5" width="61" height="18" fill="#fff" stroke="#ff0000" stroke-width="1" shape-rendering="crispEdges"/>
<text x="697" y="313" font-size="16.5" fill="#ff0000" textLength="56.5" lengthAdjust="spacingAndGlyphs">1.35039</text>
<rect x="468" y="460" width="10" height="1" fill="#ff0000" shape-rendering="crispEdges"/>
<rect x="468.5" y="458.5" width="2" height="3" fill="#fff" stroke="#ff0000" shape-rendering="crispEdges"/>
<rect x="406.5" y="451.5" width="61" height="18" fill="#fff" stroke="#ff0000" stroke-width="1" shape-rendering="crispEdges"/>
<text x="409" y="467" font-size="16.5" fill="#ff0000" textLength="56.5" lengthAdjust="spacingAndGlyphs">1.33559</text>
<rect x="1436" y="547" width="8" height="1" fill="#ff0000" shape-rendering="crispEdges"/>
<rect x="1374.5" y="540.5" width="61" height="18" fill="#fff" stroke="#ff0000" stroke-width="1" shape-rendering="crispEdges"/>
<text x="1377" y="556" font-size="16.5" fill="#ff0000" textLength="56.5" lengthAdjust="spacingAndGlyphs">1.32705</text>
<rect x="1198" y="404" width="10" height="1" fill="#ff0000" shape-rendering="crispEdges"/>
<rect x="1205.5" y="402.5" width="2" height="3" fill="#fff" stroke="#ff0000" shape-rendering="crispEdges"/>
<rect x="1208.5" y="392.5" width="73" height="24" fill="#fff" stroke="#ff0000" stroke-width="1" shape-rendering="crispEdges"/>
<text x="1210.5" y="413" font-size="21.5" fill="#ff0000" textLength="69.5" lengthAdjust="spacingAndGlyphs">1.34096</text>
</g>
<g clip-path="url(#cm)" shape-rendering="crispEdges">
<rect x="5" y="73" width="1" height="19" fill="#000"/>
<rect x="3" y="79" width="5" height="7" fill="#000"/>
<rect x="13" y="79" width="1" height="19" fill="#000"/>
<rect x="11" y="85" width="5" height="7" fill="#000"/>
<rect x="21" y="69" width="1" height="29" fill="#000"/>
<rect x="19.5" y="75.5" width="4" height="16" fill="#fff" stroke="#000" stroke-width="1"/>
<rect x="29" y="69" width="1" height="17" fill="#000"/>
<rect x="27" y="75" width="5" height="5" fill="#000"/>
<rect x="37" y="73" width="1" height="19" fill="#000"/>
<rect x="35" y="79" width="5" height="7" fill="#000"/>
<rect x="45" y="103" width="1" height="29" fill="#000"/>
<rect x="43" y="104" width="5" height="18" fill="#000"/>
<rect x="53" y="114" width="1" height="39" fill="#000"/>
<rect x="51" y="121" width="5" height="8" fill="#000"/>
<rect x="61" y="128" width="1" height="13" fill="#000"/>
<rect x="59" y="130" width="5" height="3" fill="#000"/>
<rect x="69" y="122" width="1" height="21" fill="#000"/>
<rect x="67.5" y="125.5" width="4" height="6" fill="#fff" stroke="#000" stroke-width="1"/>
<rect x="77" y="117" width="1" height="19" fill="#000"/>
<rect x="75.5" y="119.5" width="4" height="7" fill="#fff" stroke="#000" stroke-width="1"/>
<rect x="85" y="113" width="1" height="37" fill="#000"/>
<rect x="83" y="119" width="5" height="26" fill="#000"/>
<rect x="93" y="138" width="1" height="32" fill="#000"/>
<rect x="91" y="143" width="5" height="15" fill="#000"/>
<rect x="101" y="148" width="1" height="16" fill="#000"/>
<rect x="99" y="156" width="5" height="6" fill="#000"/>
<rect x="109" y="157" width="1" height="9" fill="#000"/>
<rect x="107.5" y="158.5" width="4" height="2" fill="#fff" stroke="#000" stroke-width="1"/>
<rect x="117" y="143" width="1" height="43" fill="#000"/>
<rect x="115" y="156" width="5" height="23" fill="#000"/>
<rect x="125" y="155" width="1" height="25" fill="#000"/>
<rect x="123.5" y="161.5" width="4" height="17" fill="#fff" stroke="#000" stroke-width="1"/>
<rect x="133" y="152" width="1" height="55" fill="#000"/>
<rect x="131" y="161" width="5" height="45" fill="#000"/>
<rect x="141" y="203" width="1" height="33" fill="#000"/>
<rect x="139" y="203" width="5" height="24" fill="#000"/>
<rect x="149" y="203" width="1" height="33" fill="#000"/>
<rect x="147.5" y="210.5" width="4" height="16" fill="#fff" stroke="#000" stroke-width="1"/>
<rect x="157" y="206" width="1" height="19" fill="#000"/>
<rect x="155.5" y="208.5" width="4" height="2" fill="#fff" stroke="#000" stroke-width="1"/>
<rect x="165" y="201" width="1" height="20" fill="#000"/>
<rect x="163" y="206" width="5" height="4" fill="#000"/>
<rect x="173" y="188" width="1" height="33" fill="#000"/>
<rect x="171" y="208" width="5" height="12" fill="#000"/>
<rect x="181" y="160" width="1" height="61" fill="#000"/>
<rect x="179.5" y="175.5" width="4" height="43" fill="#fff" stroke="#000" stroke-width="1"/>
<rect x="189" y="156" width="1" height="31" fill="#000"/>
<rect x="187" y="175" width="5" height="4" fill="#000"/>
<rect x="197" y="170" width="1" height="17" fill="#000"/>
<rect x="195" y="178" width="5" height="4" fill="#000"/>
<rect x="205" y="178" width="1" height="24" fill="#000"/>
<rect x="203" y="180" width="5" height="20" fill="#000"/>
<rect x="213" y="169" width="1" height="29" fill="#000"/>
<rect x="211.5" y="179.5" width="4" height="18" fill="#fff" stroke="#000" stroke-width="1"/>
<rect x="221" y="171" width="1" height="17" fill="#000"/>
<rect x="219" y="179" width="5" height="2" fill="#000"/>
<rect x="229" y="168" width="1" height="35" fill="#000"/>
<rect x="227" y="179" width="5" height="22" fill="#000"/>
<rect x="237" y="142" width="1" height="67" fill="#000"/>
<rect x="235.5" y="148.5" width="4" height="51" fill="#fff" stroke="#000" stroke-width="1"/>
<rect x="245" y="144" width="1" height="51" fill="#000"/>
<rect x="243" y="148" width="5" height="47" fill="#000"/>
<rect x="253" y="190" width="1" height="32" fill="#000"/>
<rect x="251" y="193" width="5" height="19" fill="#000"/>
<rect x="261" y="205" width="1" height="24" fill="#000"/>
<rect x="259" y="209" width="5" height="4" fill="#000"/>
<rect x="269" y="210" width="1" height="28" fill="#000"/>
<rect x="267" y="212" width="5" height="21" fill="#000"/>
<rect x="277" y="232" width="1" height="26" fill="#000"/>
<rect x="275" y="232" width="5" height="21" fill="#000"/>
<rect x="285" y="231" width="1" height="34" fill="#000"/>
<rect x="283" y="251" width="5" height="5" fill="#000"/>
<rect x="293" y="240" width="1" height="20" fill="#000"/>
<rect x="291" y="253" width="5" height="2" fill="#000"/>
<rect x="301" y="253" width="1" height="12" fill="#000"/>
<rect x="299.5" y="253.5" width="4" height="7" fill="#fff" stroke="#000" stroke-width="1"/>
<rect x="309" y="243" width="1" height="19" fill="#000"/>
<rect x="307" y="253" width="5" height="2" fill="#000"/>
<rect x="317" y="250" width="1" height="28" fill="#000"/>
<rect x="315" y="253" width="5" height="16" fill="#000"/>
<rect x="325" y="253" width="1" height="73" fill="#000"/>
<rect x="323" y="267" width="5" height="58" fill="#000"/>
<rect x="333" y="316" width="1" height="55" fill="#000"/>
<rect x="331" y="323" width="5" height="26" fill="#000"/>
<rect x="341" y="328" width="1" height="47" fill="#000"/>
<rect x="339.5" y="329.5" width="4" height="19" fill="#fff" stroke="#000" stroke-width="1"/>
<rect x="349" y="318" width="1" height="15" fill="#000"/>
<rect x="347.5" y="324.5" width="4" height="6" fill="#fff" stroke="#000" stroke-width="1"/>
<rect x="357" y="322" width="1" height="25" fill="#000"/>
<rect x="355" y="323" width="5" height="15" fill="#000"/>
<rect x="365" y="325" width="1" height="18" fill="#000"/>
<rect x="363.5" y="328.5" width="4" height="8" fill="#fff" stroke="#000" stroke-width="1"/>
<rect x="373" y="315" width="1" height="56" fill="#000"/>
<rect x="371" y="329" width="5" height="40" fill="#000"/>
<rect x="381" y="317" width="1" height="62" fill="#000"/>
<rect x="379.5" y="327.5" width="4" height="40" fill="#fff" stroke="#000" stroke-width="1"/>
<rect x="389" y="291" width="1" height="44" fill="#000"/>
<rect x="387.5" y="292.5" width="4" height="36" fill="#fff" stroke="#000" stroke-width="1"/>
<rect x="397" y="292" width="1" height="24" fill="#000"/>
<rect x="395" y="292" width="5" height="11" fill="#000"/>
<rect x="405" y="289" width="1" height="17" fill="#000"/>
<rect x="403" y="300" width="5" height="2" fill="#000"/>
<rect x="413" y="296" width="1" height="20" fill="#000"/>
<rect x="411" y="301" width="5" height="10" fill="#000"/>
<rect x="421" y="287" width="1" height="33" fill="#000"/>
<rect x="419.5" y="298.5" width="4" height="12" fill="#fff" stroke="#000" stroke-width="1"/>
<rect x="429" y="290" width="1" height="31" fill="#000"/>
<rect x="427" y="298" width="5" height="5" fill="#000"/>
<rect x="437" y="285" width="1" height="70" fill="#000"/>
<rect x="435" y="300" width="5" height="47" fill="#000"/>
<rect x="445" y="344" width="1" height="27" fill="#000"/>
<rect x="443" y="346" width="5" height="1" fill="#000"/>
<rect x="453" y="345" width="1" height="34" fill="#000"/>
<rect x="451" y="345" width="5" height="34" fill="#000"/>
<rect x="461" y="372" width="1" height="32" fill="#000"/>
<rect x="459" y="377" width="5" height="26" fill="#000"/>
<rect x="469" y="381" width="1" height="61" fill="#000"/>
<rect x="467" y="402" width="5" height="29" fill="#000"/>
<rect x="477" y="408" width="1" height="53" fill="#000"/>
<rect x="475.5" y="426.5" width="4" height="2" fill="#fff" stroke="#000" stroke-width="1"/>
<rect x="485" y="410" width="1" height="41" fill="#000"/>
<rect x="483" y="425" width="5" height="19" fill="#000"/>
<rect x="493" y="426" width="1" height="17" fill="#000"/>
<rect x="491.5" y="428.5" width="4" height="14" fill="#fff" stroke="#000" stroke-width="1"/>
<rect x="501" y="412" width="1" height="25" fill="#000"/>
<rect x="499.5" y="415.5" width="4" height="13" fill="#fff" stroke="#000" stroke-width="1"/>
<rect x="509" y="399" width="1" height="37" fill="#000"/>
<rect x="507" y="416" width="5" height="15" fill="#000"/>
<rect x="517" y="420" width="1" height="32" fill="#000"/>
<rect x="515.5" y="426.5" width="4" height="2" fill="#fff" stroke="#000" stroke-width="1"/>
<rect x="525" y="382" width="1" height="61" fill="#000"/>
<rect x="523.5" y="400.5" width="4" height="26" fill="#fff" stroke="#000" stroke-width="1"/>
<rect x="533" y="381" width="1" height="62" fill="#000"/>
<rect x="531" y="399" width="5" height="33" fill="#000"/>
<rect x="541" y="412" width="1" height="19" fill="#000"/>
<rect x="539.5" y="412.5" width="4" height="6" fill="#fff" stroke="#000" stroke-width="1"/>
<rect x="549" y="400" width="1" height="18" fill="#000"/>
<rect x="547.5" y="404.5" width="4" height="8" fill="#fff" stroke="#000" stroke-width="1"/>
<rect x="557" y="378" width="1" height="29" fill="#000"/>
<rect x="555.5" y="379.5" width="4" height="25" fill="#fff" stroke="#000" stroke-width="1"/>
<rect x="565" y="364" width="1" height="49" fill="#000"/>
<rect x="563" y="378" width="5" height="35" fill="#000"/>
<rect x="573" y="358" width="1" height="65" fill="#000"/>
<rect x="571.5" y="396.5" width="4" height="16" fill="#fff" stroke="#000" stroke-width="1"/>
<rect x="581" y="353" width="1" height="56" fill="#000"/>
<rect x="579.5" y="355.5" width="4" height="42" fill="#fff" stroke="#000" stroke-width="1"/>
<rect x="589" y="352" width="1" height="27" fill="#000"/>
<rect x="587" y="355" width="5" height="15" fill="#000"/>
<rect x="597" y="365" width="1" height="16" fill="#000"/>
<rect x="595" y="368" width="5" height="7" fill="#000"/>
<rect x="605" y="332" width="1" height="43" fill="#000"/>
<rect x="603.5" y="334.5" width="4" height="40" fill="#fff" stroke="#000" stroke-width="1"/>
<rect x="613" y="296" width="1" height="47" fill="#000"/>
<rect x="611.5" y="317.5" width="4" height="17" fill="#fff" stroke="#000" stroke-width="1"/>
<rect x="621" y="293" width="1" height="45" fill="#000"/>
<rect x="619.5" y="305.5" width="4" height="13" fill="#fff" stroke="#000" stroke-width="1"/>
<rect x="629" y="288" width="1" height="31" fill="#000"/>
<rect x="627.5" y="292.5" width="4" height="13" fill="#fff" stroke="#000" stroke-width="1"/>
<rect x="637" y="281" width="1" height="20" fill="#000"/>
<rect x="635.5" y="286.5" width="4" height="7" fill="#fff" stroke="#000" stroke-width="1"/>
<rect x="645" y="282" width="1" height="13" fill="#000"/>
<rect x="643" y="286" width="5" height="9" fill="#000"/>
<rect x="653" y="271" width="1" height="23" fill="#000"/>
<rect x="651.5" y="274.5" width="4" height="19" fill="#fff" stroke="#000" stroke-width="1"/>
<rect x="661" y="243" width="1" height="42" fill="#000"/>
<rect x="659.5" y="245.5" width="4" height="29" fill="#fff" stroke="#000" stroke-width="1"/>
<rect x="669" y="220" width="1" height="36" fill="#000"/>
<rect x="667.5" y="243.5" width="4" height="2" fill="#fff" stroke="#000" stroke-width="1"/>
<rect x="677" y="221" width="1" height="35" fill="#000"/>
<rect x="675.5" y="223.5" width="4" height="21" fill="#fff" stroke="#000" stroke-width="1"/>
<rect x="685" y="221" width="1" height="24" fill="#000"/>
<rect x="683" y="223" width="5" height="22" fill="#000"/>
<rect x="693" y="241" width="1" height="15" fill="#000"/>
<rect x="691" y="244" width="5" height="2" fill="#000"/>
<rect x="701" y="243" width="1" height="20" fill="#000"/>
<rect x="699" y="243" width="5" height="9" fill="#000"/>
<rect x="709" y="240" width="1" height="33" fill="#000"/>
<rect x="707.5" y="245.5" width="4" height="6" fill="#fff" stroke="#000" stroke-width="1"/>
<rect x="717" y="178" width="1" height="86" fill="#000"/>
<rect x="715.5" y="197.5" width="4" height="43" fill="#fff" stroke="#000" stroke-width="1"/>
<rect x="725" y="186" width="1" height="38" fill="#000"/>
<rect x="723" y="197" width="5" height="23" fill="#000"/>
<rect x="733" y="204" width="1" height="20" fill="#000"/>
<rect x="731.5" y="209.5" width="4" height="9" fill="#fff" stroke="#000" stroke-width="1"/>
<rect x="741" y="191" width="1" height="24" fill="#000"/>
<rect x="739.5" y="197.5" width="4" height="14" fill="#fff" stroke="#000" stroke-width="1"/>
<rect x="749" y="194" width="1" height="35" fill="#000"/>
<rect x="747" y="197" width="5" height="31" fill="#000"/>
<rect x="757" y="220" width="1" height="40" fill="#000"/>
<rect x="755" y="226" width="5" height="11" fill="#000"/>
<rect x="765" y="228" width="1" height="79" fill="#000"/>
<rect x="763" y="235" width="5" height="46" fill="#000"/>
<rect x="773" y="257" width="1" height="31" fill="#000"/>
<rect x="771" y="279" width="5" height="4" fill="#000"/>
<rect x="781" y="274" width="1" height="7" fill="#000"/>
<rect x="779" y="277" width="5" height="3" fill="#000"/>
<rect x="789" y="273" width="1" height="22" fill="#000"/>
<rect x="787" y="277" width="5" height="11" fill="#000"/>
<rect x="797" y="265" width="1" height="28" fill="#000"/>
<rect x="795.5" y="266.5" width="4" height="21" fill="#fff" stroke="#000" stroke-width="1"/>
<rect x="805" y="258" width="1" height="64" fill="#000"/>
<rect x="803" y="266" width="5" height="36" fill="#000"/>
<rect x="813" y="277" width="1" height="34" fill="#000"/>
<rect x="811.5" y="279.5" width="4" height="21" fill="#fff" stroke="#000" stroke-width="1"/>
<rect x="821" y="271" width="1" height="26" fill="#000"/>
<rect x="819.5" y="271.5" width="4" height="8" fill="#fff" stroke="#000" stroke-width="1"/>
<rect x="829" y="271" width="1" height="12" fill="#000"/>
<rect x="827" y="271" width="5" height="4" fill="#000"/>
<rect x="837" y="270" width="1" height="18" fill="#000"/>
<rect x="835" y="272" width="5" height="5" fill="#000"/>
<rect x="845" y="274" width="1" height="31" fill="#000"/>
<rect x="843" y="275" width="5" height="13" fill="#000"/>
<rect x="853" y="244" width="1" height="44" fill="#000"/>
<rect x="851.5" y="263.5" width="4" height="24" fill="#fff" stroke="#000" stroke-width="1"/>
<rect x="861" y="254" width="1" height="41" fill="#000"/>
<rect x="859.5" y="255.5" width="4" height="7" fill="#fff" stroke="#000" stroke-width="1"/>
<rect x="869" y="252" width="1" height="22" fill="#000"/>
<rect x="867" y="256" width="5" height="12" fill="#000"/>
<rect x="877" y="256" width="1" height="15" fill="#000"/>
<rect x="875.5" y="262.5" width="4" height="4" fill="#fff" stroke="#000" stroke-width="1"/>
<rect x="885" y="241" width="1" height="28" fill="#000"/>
<rect x="883.5" y="249.5" width="4" height="13" fill="#fff" stroke="#000" stroke-width="1"/>
<rect x="893" y="246" width="1" height="28" fill="#000"/>
<rect x="891" y="249" width="5" height="8" fill="#000"/>
<rect x="901" y="218" width="1" height="49" fill="#000"/>
<rect x="899.5" y="231.5" width="4" height="26" fill="#fff" stroke="#000" stroke-width="1"/>
<rect x="909" y="222" width="1" height="42" fill="#000"/>
<rect x="907" y="231" width="5" height="33" fill="#000"/>
<rect x="917" y="252" width="1" height="29" fill="#000"/>
<rect x="915" y="263" width="5" height="12" fill="#000"/>
<rect x="925" y="271" width="1" height="14" fill="#000"/>
<rect x="923" y="274" width="5" height="4" fill="#000"/>
<rect x="933" y="273" width="1" height="12" fill="#000"/>
<rect x="931" y="277" width="5" height="2" fill="#000"/>
<rect x="941" y="262" width="1" height="21" fill="#000"/>
<rect x="939.5" y="262.5" width="4" height="15" fill="#fff" stroke="#000" stroke-width="1"/>
<rect x="949" y="228" width="1" height="39" fill="#000"/>
<rect x="947.5" y="239.5" width="4" height="23" fill="#fff" stroke="#000" stroke-width="1"/>
<rect x="957" y="187" width="1" height="102" fill="#000"/>
<rect x="955.5" y="190.5" width="4" height="49" fill="#fff" stroke="#000" stroke-width="1"/>
<rect x="965" y="161" width="1" height="76" fill="#000"/>
<rect x="963" y="191" width="5" height="46" fill="#000"/>
<rect x="973" y="227" width="1" height="42" fill="#000"/>
<rect x="971" y="234" width="5" height="28" fill="#000"/>
<rect x="981" y="253" width="1" height="25" fill="#000"/>
<rect x="979" y="260" width="5" height="12" fill="#000"/>
<rect x="989" y="265" width="1" height="32" fill="#000"/>
<rect x="987" y="270" width="5" height="7" fill="#000"/>
<rect x="997" y="237" width="1" height="55" fill="#000"/>
<rect x="995.5" y="246.5" width="4" height="30" fill="#fff" stroke="#000" stroke-width="1"/>
<rect x="1005" y="197" width="1" height="52" fill="#000"/>
<rect x="1003.5" y="204.5" width="4" height="42" fill="#fff" stroke="#000" stroke-width="1"/>
<rect x="1013" y="201" width="1" height="68" fill="#000"/>
<rect x="1011" y="204" width="5" height="57" fill="#000"/>
<rect x="1021" y="236" width="1" height="25" fill="#000"/>
<rect x="1019.5" y="239.5" width="4" height="15" fill="#fff" stroke="#000" stroke-width="1"/>
<rect x="1029" y="239" width="1" height="37" fill="#000"/>
<rect x="1027" y="239" width="5" height="37" fill="#000"/>
<rect x="1037" y="261" width="1" height="23" fill="#000"/>
<rect x="1035.5" y="270.5" width="4" height="5" fill="#fff" stroke="#000" stroke-width="1"/>
<rect x="1045" y="269" width="1" height="48" fill="#000"/>
<rect x="1043" y="271" width="5" height="27" fill="#000"/>
<rect x="1053" y="261" width="1" height="50" fill="#000"/>
<rect x="1051" y="295" width="5" height="3" fill="#000"/>
<rect x="1061" y="268" width="1" height="34" fill="#000"/>
<rect x="1059.5" y="290.5" width="4" height="8" fill="#fff" stroke="#000" stroke-width="1"/>
<rect x="1069" y="275" width="1" height="20" fill="#000"/>
<rect x="1067.5" y="277.5" width="4" height="15" fill="#fff" stroke="#000" stroke-width="1"/>
<rect x="1077" y="263" width="1" height="16" fill="#000"/>
<rect x="1075.5" y="272.5" width="4" height="6" fill="#fff" stroke="#000" stroke-width="1"/>
<rect x="1085" y="265" width="1" height="18" fill="#000"/>
<rect x="1083" y="272" width="5" height="7" fill="#000"/>
<rect x="1093" y="241" width="1" height="41" fill="#000"/>
<rect x="1091.5" y="270.5" width="4" height="8" fill="#fff" stroke="#000" stroke-width="1"/>
<rect x="1101" y="255" width="1" height="72" fill="#000"/>
<rect x="1099" y="270" width="5" height="20" fill="#000"/>
<rect x="1109" y="268" width="1" height="22" fill="#000"/>
<rect x="1107.5" y="274.5" width="4" height="15" fill="#fff" stroke="#000" stroke-width="1"/>
<rect x="1117" y="265" width="1" height="16" fill="#000"/>
<rect x="1115.5" y="269.5" width="4" height="5" fill="#fff" stroke="#000" stroke-width="1"/>
<rect x="1125" y="259" width="1" height="12" fill="#000"/>
<rect x="1123.5" y="269.5" width="4" height="1" fill="#fff" stroke="#000" stroke-width="1"/>
<rect x="1133" y="246" width="1" height="26" fill="#000"/>
<rect x="1131.5" y="250.5" width="4" height="21" fill="#fff" stroke="#000" stroke-width="1"/>
<rect x="1141" y="233" width="1" height="24" fill="#000"/>
<rect x="1139.5" y="249.5" width="4" height="1" fill="#fff" stroke="#000" stroke-width="1"/>
<rect x="1149" y="216" width="1" height="55" fill="#000"/>
<rect x="1147.5" y="228.5" width="4" height="22" fill="#fff" stroke="#000" stroke-width="1"/>
<rect x="1157" y="206" width="1" height="34" fill="#000"/>
<rect x="1155.5" y="207.5" width="4" height="22" fill="#fff" stroke="#000" stroke-width="1"/>
<rect x="1165" y="206" width="1" height="25" fill="#000"/>
<rect x="1163" y="207" width="5" height="20" fill="#000"/>
<rect x="1173" y="209" width="1" height="40" fill="#000"/>
<rect x="1171" y="226" width="5" height="23" fill="#000"/>
<rect x="1181" y="211" width="1" height="43" fill="#000"/>
<rect x="1179.5" y="211.5" width="4" height="37" fill="#fff" stroke="#000" stroke-width="1"/>
<rect x="1189" y="187" width="1" height="54" fill="#000"/>
<rect x="1187.5" y="198.5" width="4" height="13" fill="#fff" stroke="#000" stroke-width="1"/>
<rect x="1197" y="166" width="1" height="38" fill="#000"/>
<rect x="1195.5" y="186.5" width="4" height="12" fill="#fff" stroke="#000" stroke-width="1"/>
<rect x="1205" y="174" width="1" height="17" fill="#000"/>
<rect x="1203.5" y="183.5" width="4" height="3" fill="#fff" stroke="#000" stroke-width="1"/>
<rect x="1213" y="182" width="1" height="14" fill="#000"/>
<rect x="1211" y="182" width="5" height="12" fill="#000"/>
<rect x="1221" y="188" width="1" height="21" fill="#000"/>
<rect x="1219" y="192" width="5" height="3" fill="#000"/>
<rect x="1229" y="179" width="1" height="24" fill="#000"/>
<rect x="1227.5" y="182.5" width="4" height="12" fill="#fff" stroke="#000" stroke-width="1"/>
<rect x="1237" y="162" width="1" height="35" fill="#000"/>
<rect x="1235" y="182" width="5" height="9" fill="#000"/>
<rect x="1245" y="180" width="1" height="48" fill="#000"/>
<rect x="1243" y="189" width="5" height="38" fill="#000"/>
<rect x="1253" y="200" width="1" height="36" fill="#000"/>
<rect x="1251.5" y="205.5" width="4" height="20" fill="#fff" stroke="#000" stroke-width="1"/>
<rect x="1261" y="209" width="1" height="12" fill="#000"/>
<rect x="1259" y="215" width="5" height="3" fill="#000"/>
<rect x="1269" y="182" width="1" height="42" fill="#000"/>
<rect x="1267.5" y="187.5" width="4" height="29" fill="#fff" stroke="#000" stroke-width="1"/>
<rect x="1277" y="173" width="1" height="20" fill="#000"/>
<rect x="1275.5" y="177.5" width="4" height="10" fill="#fff" stroke="#000" stroke-width="1"/>
<rect x="1285" y="167" width="1" height="31" fill="#000"/>
<rect x="1283" y="177" width="5" height="12" fill="#000"/>
<rect x="1293" y="183" width="1" height="32" fill="#000"/>
<rect x="1291" y="187" width="5" height="14" fill="#000"/>
<rect x="1301" y="188" width="1" height="24" fill="#000"/>
<rect x="1299" y="200" width="5" height="3" fill="#000"/>
<rect x="1309" y="202" width="1" height="26" fill="#000"/>
<rect x="1307" y="202" width="5" height="12" fill="#000"/>
<rect x="1317" y="207" width="1" height="22" fill="#000"/>
<rect x="1315" y="211" width="5" height="12" fill="#000"/>
<rect x="1325" y="208" width="1" height="36" fill="#000"/>
<rect x="1323" y="220" width="5" height="24" fill="#000"/>
<rect x="1333" y="210" width="1" height="56" fill="#000"/>
<rect x="1331" y="242" width="5" height="15" fill="#000"/>
<rect x="1341" y="204" width="1" height="69" fill="#000"/>
<rect x="1339.5" y="216.5" width="4" height="39" fill="#fff" stroke="#000" stroke-width="1"/>
<rect x="1349" y="202" width="1" height="32" fill="#000"/>
<rect x="1347.5" y="215.5" width="4" height="1" fill="#fff" stroke="#000" stroke-width="1"/>
<rect x="1357" y="212" width="1" height="19" fill="#000"/>
<rect x="1355" y="215" width="5" height="5" fill="#000"/>
<rect x="1365" y="202" width="1" height="21" fill="#000"/>
<rect x="1363.5" y="213.5" width="4" height="6" fill="#fff" stroke="#000" stroke-width="1"/>
<rect x="1373" y="196" width="1" height="24" fill="#000"/>
<rect x="1371.5" y="199.5" width="4" height="14" fill="#fff" stroke="#000" stroke-width="1"/>
<rect x="1381" y="185" width="1" height="38" fill="#000"/>
<rect x="1379" y="199" width="5" height="24" fill="#000"/>
<rect x="1389" y="199" width="1" height="56" fill="#000"/>
<rect x="1387" y="221" width="5" height="29" fill="#000"/>
<rect x="1397" y="244" width="1" height="28" fill="#000"/>
<rect x="1395" y="248" width="5" height="24" fill="#000"/>
<rect x="1405" y="259" width="1" height="15" fill="#000"/>
<rect x="1403.5" y="264.5" width="4" height="8" fill="#fff" stroke="#000" stroke-width="1"/>
<rect x="1413" y="262" width="1" height="39" fill="#000"/>
<rect x="1411" y="264" width="5" height="33" fill="#000"/>
<rect x="1421" y="293" width="1" height="59" fill="#000"/>
<rect x="1419" y="296" width="5" height="40" fill="#000"/>
<rect x="1429" y="318" width="1" height="116" fill="#000"/>
<rect x="1427" y="333" width="5" height="86" fill="#000"/>
<rect x="1437" y="395" width="1" height="152" fill="#000"/>
<rect x="1435" y="418" width="5" height="128" fill="#000"/>
<rect x="1445" y="410" width="1" height="137" fill="#000"/>
<rect x="1443.5" y="434.5" width="4" height="111" fill="#fff" stroke="#000" stroke-width="1"/>
<rect x="1453" y="412" width="1" height="24" fill="#000"/>
<rect x="1451.5" y="432.5" width="4" height="2" fill="#fff" stroke="#000" stroke-width="1"/>
</g>
<polygon points="1459.5,26 1469.5,26 1464.5,31.5" fill="#c0c0c0"/>
<rect x="1347" y="396" width="190" height="9" fill="#00ff00" shape-rendering="crispEdges"/>
<rect x="1650" y="323" width="41" height="11" fill="#ff5500" shape-rendering="crispEdges"/>
<text x="1654.5" y="332.0" font-size="10.4" fill="#fff" textLength="32.5" lengthAdjust="spacingAndGlyphs">1.34815</text>
<rect x="1650" y="363" width="41" height="11" fill="#ff0000" shape-rendering="crispEdges"/>
<text x="1654.5" y="372.0" font-size="10.4" fill="#fff" textLength="32.5" lengthAdjust="spacingAndGlyphs">1.34431</text>
<rect x="1650" y="398" width="41" height="11" fill="#32cd32" shape-rendering="crispEdges"/>
<text x="1654.5" y="407.0" font-size="10.4" fill="#fff" textLength="32.5" lengthAdjust="spacingAndGlyphs">1.34096</text>
<rect x="1650" y="427" width="41" height="11" fill="#000000" shape-rendering="crispEdges"/>
<text x="1654.5" y="436.0" font-size="10.4" fill="#fff" textLength="32.5" lengthAdjust="spacingAndGlyphs">1.33822</text>
<rect x="1650" y="461" width="41" height="11" fill="#0000ff" shape-rendering="crispEdges"/>
<text x="1654.5" y="470.0" font-size="10.4" fill="#fff" textLength="32.5" lengthAdjust="spacingAndGlyphs">1.33492</text>
<rect x="1650" y="496" width="41" height="11" fill="#0000ff" shape-rendering="crispEdges"/>
<text x="1654.5" y="505.0" font-size="10.4" fill="#fff" textLength="32.5" lengthAdjust="spacingAndGlyphs">1.33156</text>
<text x="4.7" y="36.8" font-size="10.4" fill="#000" textLength="56" lengthAdjust="spacingAndGlyphs">GBPUSD-,H4</text>
<text x="67.3" y="36.8" font-size="10.4" fill="#000" textLength="140.5" lengthAdjust="spacingAndGlyphs">1.33804 1.34021 1.33804 1.33822</text>
<g clip-path="url(#cmacd)" shape-rendering="crispEdges">
<rect x="5" y="576" width="1" height="88" fill="#c0c0c0"/>
<rect x="13" y="580" width="1" height="84" fill="#c0c0c0"/>
<rect x="21" y="581" width="1" height="83" fill="#c0c0c0"/>
<rect x="29" y="583" width="1" height="81" fill="#c0c0c0"/>
<rect x="37" y="587" width="1" height="77" fill="#c0c0c0"/>
<rect x="45" y="596" width="1" height="68" fill="#c0c0c0"/>
<rect x="53" y="605" width="1" height="59" fill="#c0c0c0"/>
<rect x="61" y="613" width="1" height="51" fill="#c0c0c0"/>
<rect x="69" y="619" width="1" height="45" fill="#c0c0c0"/>
<rect x="77" y="623" width="1" height="41" fill="#c0c0c0"/>
<rect x="85" y="631" width="1" height="33" fill="#c0c0c0"/>
<rect x="93" y="639" width="1" height="25" fill="#c0c0c0"/>
<rect x="101" y="646" width="1" height="18" fill="#c0c0c0"/>
<rect x="109" y="652" width="1" height="12" fill="#c0c0c0"/>
<rect x="117" y="659" width="1" height="5" fill="#c0c0c0"/>
<rect x="125" y="663" width="1" height="1" fill="#c0c0c0"/>
<rect x="133" y="663" width="1" height="10" fill="#c0c0c0"/>
<rect x="141" y="663" width="1" height="20" fill="#c0c0c0"/>
<rect x="149" y="663" width="1" height="26" fill="#c0c0c0"/>
<rect x="157" y="663" width="1" height="29" fill="#c0c0c0"/>
<rect x="165" y="663" width="1" height="32" fill="#c0c0c0"/>
<rect x="173" y="663" width="1" height="35" fill="#c0c0c0"/>
<rect x="181" y="663" width="1" height="31" fill="#c0c0c0"/>
<rect x="189" y="663" width="1" height="27" fill="#c0c0c0"/>
<rect x="197" y="663" width="1" height="25" fill="#c0c0c0"/>
<rect x="205" y="663" width="1" height="25" fill="#c0c0c0"/>
<rect x="213" y="663" width="1" height="23" fill="#c0c0c0"/>
<rect x="221" y="663" width="1" height="20" fill="#c0c0c0"/>
<rect x="229" y="663" width="1" height="21" fill="#c0c0c0"/>
<rect x="237" y="663" width="1" height="14" fill="#c0c0c0"/>
<rect x="245" y="663" width="1" height="15" fill="#c0c0c0"/>
<rect x="253" y="663" width="1" height="18" fill="#c0c0c0"/>
<rect x="261" y="663" width="1" height="21" fill="#c0c0c0"/>
<rect x="269" y="663" width="1" height="25" fill="#c0c0c0"/>
<rect x="277" y="663" width="1" height="32" fill="#c0c0c0"/>
<rect x="285" y="663" width="1" height="37" fill="#c0c0c0"/>
<rect x="293" y="663" width="1" height="40" fill="#c0c0c0"/>
<rect x="301" y="663" width="1" height="42" fill="#c0c0c0"/>
<rect x="309" y="663" width="1" height="44" fill="#c0c0c0"/>
<rect x="317" y="663" width="1" height="46" fill="#c0c0c0"/>
<rect x="325" y="663" width="1" height="56" fill="#c0c0c0"/>
<rect x="333" y="663" width="1" height="67" fill="#c0c0c0"/>
<rect x="341" y="663" width="1" height="72" fill="#c0c0c0"/>
<rect x="349" y="663" width="1" height="74" fill="#c0c0c0"/>
<rect x="357" y="663" width="1" height="77" fill="#c0c0c0"/>
<rect x="365" y="663" width="1" height="77" fill="#c0c0c0"/>
<rect x="373" y="663" width="1" height="82" fill="#c0c0c0"/>
<rect x="381" y="663" width="1" height="79" fill="#c0c0c0"/>
<rect x="389" y="663" width="1" height="71" fill="#c0c0c0"/>
<rect x="397" y="663" width="1" height="65" fill="#c0c0c0"/>
<rect x="405" y="663" width="1" height="59" fill="#c0c0c0"/>
<rect x="413" y="663" width="1" height="56" fill="#c0c0c0"/>
<rect x="421" y="663" width="1" height="50" fill="#c0c0c0"/>
<rect x="429" y="663" width="1" height="46" fill="#c0c0c0"/>
<rect x="437" y="663" width="1" height="49" fill="#c0c0c0"/>
<rect x="445" y="663" width="1" height="51" fill="#c0c0c0"/>
<rect x="453" y="663" width="1" height="56" fill="#c0c0c0"/>
<rect x="461" y="663" width="1" height="64" fill="#c0c0c0"/>
<rect x="469" y="663" width="1" height="73" fill="#c0c0c0"/>
<rect x="477" y="663" width="1" height="79" fill="#c0c0c0"/>
<rect x="485" y="663" width="1" height="85" fill="#c0c0c0"/>
<rect x="493" y="663" width="1" height="86" fill="#c0c0c0"/>
<rect x="501" y="663" width="1" height="85" fill="#c0c0c0"/>
<rect x="509" y="663" width="1" height="85" fill="#c0c0c0"/>
<rect x="517" y="663" width="1" height="83" fill="#c0c0c0"/>
<rect x="525" y="663" width="1" height="78" fill="#c0c0c0"/>
<rect x="533" y="663" width="1" height="77" fill="#c0c0c0"/>
<rect x="541" y="663" width="1" height="72" fill="#c0c0c0"/>
<rect x="549" y="663" width="1" height="67" fill="#c0c0c0"/>
<rect x="557" y="663" width="1" height="58" fill="#c0c0c0"/>
<rect x="565" y="663" width="1" height="55" fill="#c0c0c0"/>
<rect x="573" y="663" width="1" height="50" fill="#c0c0c0"/>
<rect x="581" y="663" width="1" height="40" fill="#c0c0c0"/>
<rect x="589" y="663" width="1" height="33" fill="#c0c0c0"/>
<rect x="597" y="663" width="1" height="28" fill="#c0c0c0"/>
<rect x="605" y="663" width="1" height="18" fill="#c0c0c0"/>
<rect x="613" y="663" width="1" height="7" fill="#c0c0c0"/>
<rect x="621" y="659" width="1" height="5" fill="#c0c0c0"/>
<rect x="629" y="649" width="1" height="15" fill="#c0c0c0"/>
<rect x="637" y="641" width="1" height="23" fill="#c0c0c0"/>
<rect x="645" y="636" width="1" height="28" fill="#c0c0c0"/>
<rect x="653" y="629" width="1" height="35" fill="#c0c0c0"/>
<rect x="661" y="620" width="1" height="44" fill="#c0c0c0"/>
<rect x="669" y="613" width="1" height="51" fill="#c0c0c0"/>
<rect x="677" y="605" width="1" height="59" fill="#c0c0c0"/>
<rect x="685" y="602" width="1" height="62" fill="#c0c0c0"/>
<rect x="693" y="601" width="1" height="63" fill="#c0c0c0"/>
<rect x="701" y="602" width="1" height="62" fill="#c0c0c0"/>
<rect x="709" y="603" width="1" height="61" fill="#c0c0c0"/>
<rect x="717" y="596" width="1" height="68" fill="#c0c0c0"/>
<rect x="725" y="596" width="1" height="68" fill="#c0c0c0"/>
<rect x="733" y="594" width="1" height="70" fill="#c0c0c0"/>
<rect x="741" y="592" width="1" height="72" fill="#c0c0c0"/>
<rect x="749" y="596" width="1" height="68" fill="#c0c0c0"/>
<rect x="757" y="601" width="1" height="63" fill="#c0c0c0"/>
<rect x="765" y="612" width="1" height="52" fill="#c0c0c0"/>
<rect x="773" y="622" width="1" height="42" fill="#c0c0c0"/>
<rect x="781" y="629" width="1" height="35" fill="#c0c0c0"/>
<rect x="789" y="637" width="1" height="27" fill="#c0c0c0"/>
<rect x="797" y="640" width="1" height="24" fill="#c0c0c0"/>
<rect x="805" y="648" width="1" height="16" fill="#c0c0c0"/>
<rect x="813" y="651" width="1" height="13" fill="#c0c0c0"/>
<rect x="821" y="652" width="1" height="12" fill="#c0c0c0"/>
<rect x="829" y="654" width="1" height="10" fill="#c0c0c0"/>
<rect x="837" y="656" width="1" height="8" fill="#c0c0c0"/>
<rect x="845" y="659" width="1" height="5" fill="#c0c0c0"/>
<rect x="853" y="658" width="1" height="6" fill="#c0c0c0"/>
<rect x="861" y="656" width="1" height="8" fill="#c0c0c0"/>
<rect x="869" y="656" width="1" height="8" fill="#c0c0c0"/>
<rect x="877" y="656" width="1" height="8" fill="#c0c0c0"/>
<rect x="885" y="653" width="1" height="11" fill="#c0c0c0"/>
<rect x="893" y="653" width="1" height="11" fill="#c0c0c0"/>
<rect x="901" y="649" width="1" height="15" fill="#c0c0c0"/>
<rect x="909" y="651" width="1" height="13" fill="#c0c0c0"/>
<rect x="917" y="654" width="1" height="10" fill="#c0c0c0"/>
<rect x="925" y="657" width="1" height="7" fill="#c0c0c0"/>
<rect x="933" y="659" width="1" height="5" fill="#c0c0c0"/>
<rect x="941" y="659" width="1" height="5" fill="#c0c0c0"/>
<rect x="949" y="656" width="1" height="8" fill="#c0c0c0"/>
<rect x="957" y="645" width="1" height="19" fill="#c0c0c0"/>
<rect x="965" y="645" width="1" height="19" fill="#c0c0c0"/>
<rect x="973" y="648" width="1" height="16" fill="#c0c0c0"/>
<rect x="981" y="652" width="1" height="12" fill="#c0c0c0"/>
<rect x="989" y="656" width="1" height="8" fill="#c0c0c0"/>
<rect x="997" y="655" width="1" height="9" fill="#c0c0c0"/>
<rect x="1005" y="648" width="1" height="16" fill="#c0c0c0"/>
<rect x="1013" y="651" width="1" height="13" fill="#c0c0c0"/>
<rect x="1021" y="651" width="1" height="13" fill="#c0c0c0"/>
<rect x="1029" y="656" width="1" height="8" fill="#c0c0c0"/>
<rect x="1037" y="659" width="1" height="5" fill="#c0c0c0"/>
<rect x="1045" y="663" width="1" height="4" fill="#c0c0c0"/>
<rect x="1053" y="663" width="1" height="9" fill="#c0c0c0"/>
<rect x="1061" y="663" width="1" height="12" fill="#c0c0c0"/>
<rect x="1069" y="663" width="1" height="12" fill="#c0c0c0"/>
<rect x="1077" y="663" width="1" height="11" fill="#c0c0c0"/>
<rect x="1085" y="663" width="1" height="12" fill="#c0c0c0"/>
<rect x="1093" y="663" width="1" height="11" fill="#c0c0c0"/>
<rect x="1101" y="663" width="1" height="12" fill="#c0c0c0"/>
<rect x="1109" y="663" width="1" height="12" fill="#c0c0c0"/>
<rect x="1117" y="663" width="1" height="10" fill="#c0c0c0"/>
<rect x="1125" y="663" width="1" height="8" fill="#c0c0c0"/>
<rect x="1133" y="663" width="1" height="5" fill="#c0c0c0"/>
<rect x="1141" y="663" width="1" height="1" fill="#c0c0c0"/>
<rect x="1149" y="658" width="1" height="6" fill="#c0c0c0"/>
<rect x="1157" y="650" width="1" height="14" fill="#c0c0c0"/>
<rect x="1165" y="647" width="1" height="17" fill="#c0c0c0"/>
<rect x="1173" y="648" width="1" height="16" fill="#c0c0c0"/>
<rect x="1181" y="644" width="1" height="20" fill="#c0c0c0"/>
<rect x="1189" y="639" width="1" height="25" fill="#c0c0c0"/>
<rect x="1197" y="633" width="1" height="31" fill="#c0c0c0"/>
<rect x="1205" y="629" width="1" height="35" fill="#c0c0c0"/>
<rect x="1213" y="627" width="1" height="37" fill="#c0c0c0"/>
<rect x="1221" y="626" width="1" height="38" fill="#c0c0c0"/>
<rect x="1229" y="624" width="1" height="40" fill="#c0c0c0"/>
<rect x="1237" y="624" width="1" height="40" fill="#c0c0c0"/>
<rect x="1245" y="630" width="1" height="34" fill="#c0c0c0"/>
<rect x="1253" y="632" width="1" height="32" fill="#c0c0c0"/>
<rect x="1261" y="636" width="1" height="28" fill="#c0c0c0"/>
<rect x="1269" y="635" width="1" height="29" fill="#c0c0c0"/>
<rect x="1277" y="632" width="1" height="32" fill="#c0c0c0"/>
<rect x="1285" y="633" width="1" height="31" fill="#c0c0c0"/>
<rect x="1293" y="635" width="1" height="29" fill="#c0c0c0"/>
<rect x="1301" y="637" width="1" height="27" fill="#c0c0c0"/>
<rect x="1309" y="641" width="1" height="23" fill="#c0c0c0"/>
<rect x="1317" y="646" width="1" height="18" fill="#c0c0c0"/>
<rect x="1325" y="653" width="1" height="11" fill="#c0c0c0"/>
<rect x="1333" y="660" width="1" height="4" fill="#c0c0c0"/>
<rect x="1341" y="660" width="1" height="4" fill="#c0c0c0"/>
<rect x="1349" y="660" width="1" height="4" fill="#c0c0c0"/>
<rect x="1357" y="661" width="1" height="3" fill="#c0c0c0"/>
<rect x="1365" y="660" width="1" height="4" fill="#c0c0c0"/>
<rect x="1373" y="658" width="1" height="6" fill="#c0c0c0"/>
<rect x="1381" y="659" width="1" height="5" fill="#c0c0c0"/>
<rect x="1389" y="663" width="1" height="3" fill="#c0c0c0"/>
<rect x="1397" y="663" width="1" height="10" fill="#c0c0c0"/>
<rect x="1405" y="663" width="1" height="15" fill="#c0c0c0"/>
<rect x="1413" y="663" width="1" height="23" fill="#c0c0c0"/>
<rect x="1421" y="663" width="1" height="35" fill="#c0c0c0"/>
<rect x="1429" y="663" width="1" height="57" fill="#c0c0c0"/>
<rect x="1437" y="663" width="1" height="92" fill="#c0c0c0"/>
<rect x="1445" y="663" width="1" height="102" fill="#c0c0c0"/>
<rect x="1453" y="663" width="1" height="108" fill="#c0c0c0"/>
</g>
<polyline clip-path="url(#cmacd)" points="-2.5,594.0 5.5,589.2 13.5,585.0 21.5,582.0 29.5,580.1 37.5,579.6 45.5,581.0 53.5,584.0 61.5,588.2 69.5,593.1 77.5,598.3 85.5,604.0 93.5,610.5 101.5,617.5 109.5,624.8 117.5,631.8 125.5,638.3 133.5,644.9 141.5,651.9 149.5,659.0 157.5,665.7 165.5,671.8 173.5,677.5 181.5,682.0 189.5,685.4 197.5,688.1 205.5,689.8 213.5,690.1 221.5,689.5 229.5,688.6 237.5,686.6 245.5,684.4 253.5,683.0 261.5,682.2 269.5,682.3 277.5,683.0 285.5,684.6 293.5,686.8 301.5,689.2 309.5,692.5 317.5,696.0 325.5,700.3 333.5,705.4 341.5,710.6 349.5,715.3 357.5,719.8 365.5,723.9 373.5,728.3 381.5,732.2 389.5,734.9 397.5,735.9 405.5,735.0 413.5,733.1 421.5,730.5 429.5,727.1 437.5,724.0 445.5,720.5 453.5,717.9 461.5,717.1 469.5,718.0 477.5,720.2 485.5,723.4 493.5,727.4 501.5,731.7 509.5,735.7 517.5,739.3 525.5,741.7 533.5,743.1 541.5,743.0 549.5,741.7 557.5,738.7 565.5,735.3 573.5,731.4 581.5,726.4 589.5,720.8 597.5,715.3 605.5,708.8 613.5,701.6 621.5,693.9 629.5,686.0 637.5,677.5 645.5,669.0 653.5,661.0 661.5,652.6 669.5,644.0 677.5,635.7 685.5,628.2 693.5,621.8 701.5,616.5 709.5,612.2 717.5,607.9 725.5,604.2 733.5,601.3 741.5,599.1 749.5,598.1 757.5,597.9 765.5,599.1 773.5,601.3 781.5,604.3 789.5,608.8 797.5,613.8 805.5,619.7 813.5,626.2 821.5,632.5 829.5,638.4 837.5,643.2 845.5,647.3 853.5,650.5 861.5,652.5 869.5,654.3 877.5,655.2 885.5,655.4 893.5,655.5 901.5,654.9 909.5,654.3 917.5,653.8 925.5,653.7 933.5,654.1 941.5,654.5 949.5,654.5 957.5,653.6 965.5,652.7 973.5,652.6 981.5,652.8 989.5,653.0 997.5,652.9 1005.5,651.6 1013.5,650.7 1021.5,650.2 1029.5,651.3 1037.5,652.9 1045.5,654.9 1053.5,656.9 1061.5,658.9 1069.5,661.0 1077.5,663.8 1085.5,666.3 1093.5,668.7 1101.5,670.8 1109.5,672.4 1117.5,673.1 1125.5,673.1 1133.5,672.3 1141.5,671.1 1149.5,669.3 1157.5,666.7 1165.5,663.9 1173.5,660.9 1181.5,657.6 1189.5,653.9 1197.5,649.8 1205.5,645.6 1213.5,641.6 1221.5,638.1 1229.5,635.3 1237.5,632.7 1245.5,630.8 1253.5,629.5 1261.5,629.2 1269.5,629.3 1277.5,629.8 1285.5,630.4 1293.5,631.3 1301.5,632.8 1309.5,634.6 1317.5,636.4 1325.5,638.6 1333.5,641.3 1341.5,644.2 1349.5,647.3 1357.5,650.4 1365.5,653.2 1373.5,655.5 1381.5,657.5 1389.5,659.6 1397.5,661.8 1405.5,663.6 1413.5,666.4 1421.5,670.5 1429.5,677.0 1437.5,687.4 1445.5,699.2 1453.5,711.6" fill="none" stroke="#ff0000" stroke-width="1" stroke-dasharray="3,3" shape-rendering="crispEdges"/>
<text x="-6" y="574.8" font-size="10.4" fill="#000" textLength="153" lengthAdjust="spacingAndGlyphs">MACD(12,26,9) -0.005499 -0.002476</text>
<g shape-rendering="crispEdges">
<rect x="1649" y="564" width="3" height="1" fill="#000"/>
<rect x="1649" y="663" width="3" height="1" fill="#000"/>
<rect x="1649" y="780" width="3" height="1" fill="#000"/>
</g>
<text x="1652.5" y="572.8" font-size="10.4" fill="#000" textLength="37.5" lengthAdjust="spacingAndGlyphs">0.005071</text>
<text x="1652.5" y="666.8" font-size="10.4" fill="#000" textLength="17.5" lengthAdjust="spacingAndGlyphs">0.00</text>
<text x="1652.5" y="778.8" font-size="10.4" fill="#000" textLength="40.5" lengthAdjust="spacingAndGlyphs">-0.006003</text>
<g shape-rendering="crispEdges">
<line x1="2" y1="813.5" x2="1648" y2="813.5" stroke="#c0c0c0" stroke-width="1" stroke-dasharray="3,3"/>
<line x1="2" y1="855.5" x2="1648" y2="855.5" stroke="#c0c0c0" stroke-width="1" stroke-dasharray="3,3"/>
<line x1="2" y1="904.5" x2="1648" y2="904.5" stroke="#c0c0c0" stroke-width="1" stroke-dasharray="3,3"/>
<rect x="1649" y="785" width="3" height="1" fill="#000"/>
<rect x="1649" y="813" width="3" height="1" fill="#000"/>
<rect x="1649" y="855" width="3" height="1" fill="#000"/>
<rect x="1649" y="904" width="3" height="1" fill="#000"/>
<rect x="1649" y="925" width="3" height="1" fill="#000"/>
</g>
<polyline clip-path="url(#crsi)" points="-2.5,822.0 5.5,824.9 13.5,828.5 21.5,824.9 29.5,826.9 37.5,830.4 45.5,847.8 53.5,850.7 61.5,852.2 69.5,849.7 77.5,847.3 85.5,858.2 93.5,863.1 101.5,864.6 109.5,862.9 117.5,870.4 125.5,862.2 133.5,875.6 141.5,880.6 149.5,873.5 157.5,872.3 165.5,872.7 173.5,875.6 181.5,857.2 189.5,858.1 197.5,859.1 205.5,865.3 213.5,857.5 221.5,857.7 229.5,864.7 237.5,847.1 245.5,860.8 253.5,865.0 261.5,865.2 269.5,870.2 277.5,874.7 285.5,875.2 293.5,875.1 301.5,874.6 309.5,874.9 317.5,878.5 325.5,890.0 333.5,893.5 341.5,884.8 349.5,882.4 357.5,885.0 365.5,881.1 373.5,888.3 381.5,872.7 389.5,861.7 397.5,864.0 405.5,863.9 413.5,866.1 421.5,862.1 429.5,863.1 437.5,873.9 445.5,874.0 453.5,880.5 461.5,884.8 469.5,889.0 477.5,887.4 485.5,890.0 493.5,883.8 501.5,878.6 509.5,881.4 517.5,880.1 525.5,869.6 533.5,876.5 541.5,869.7 549.5,866.8 557.5,858.5 565.5,866.8 573.5,862.0 581.5,850.7 589.5,854.5 597.5,855.8 605.5,845.9 613.5,842.2 621.5,839.7 629.5,837.0 637.5,835.8 645.5,838.6 653.5,834.3 661.5,828.7 669.5,828.4 677.5,824.8 685.5,833.3 693.5,833.7 701.5,836.2 709.5,834.8 717.5,825.0 725.5,833.9 733.5,831.9 741.5,829.5 749.5,841.1 757.5,844.5 765.5,857.7 773.5,858.3 781.5,857.3 789.5,859.8 797.5,853.1 805.5,863.3 813.5,856.5 821.5,854.2 829.5,854.9 837.5,855.6 845.5,859.3 853.5,851.3 861.5,848.8 869.5,853.1 877.5,851.6 885.5,847.1 893.5,849.7 901.5,841.8 909.5,854.2 917.5,858.0 925.5,859.0 933.5,859.1 941.5,853.1 949.5,845.1 957.5,832.6 965.5,848.8 973.5,855.9 981.5,858.5 989.5,859.9 997.5,851.4 1005.5,841.5 1013.5,856.3 1021.5,851.6 1029.5,859.7 1037.5,858.5 1045.5,864.1 1053.5,864.3 1061.5,862.3 1069.5,858.6 1077.5,857.2 1085.5,858.9 1093.5,856.4 1101.5,861.9 1109.5,857.0 1117.5,855.3 1125.5,855.2 1133.5,849.1 1141.5,848.7 1149.5,842.3 1157.5,836.6 1165.5,844.6 1173.5,852.4 1181.5,842.3 1189.5,839.3 1197.5,836.5 1205.5,835.8 1213.5,839.7 1221.5,840.5 1229.5,837.1 1237.5,840.5 1245.5,854.9 1253.5,848.3 1261.5,852.4 1269.5,843.8 1277.5,841.1 1285.5,845.3 1293.5,849.7 1301.5,850.8 1309.5,854.7 1317.5,858.0 1325.5,865.1 1333.5,869.0 1341.5,854.2 1349.5,853.9 1357.5,855.4 1365.5,853.2 1373.5,848.2 1381.5,856.8 1389.5,865.6 1397.5,871.7 1405.5,868.9 1413.5,876.9 1421.5,884.4 1429.5,895.3 1437.5,904.4 1445.5,878.0 1453.5,877.6" fill="none" stroke="#1e90ff" stroke-width="1" shape-rendering="crispEdges"/>
<text x="-7" y="796.1" font-size="10.4" fill="#000" textLength="67.5" lengthAdjust="spacingAndGlyphs">RSI(14) 34.0868</text>
<text x="1652" y="794" font-size="10.4" fill="#000" textLength="14.8" lengthAdjust="spacingAndGlyphs">100</text>
<text x="1651.5" y="817.3" font-size="10.4" fill="#000" textLength="10" lengthAdjust="spacingAndGlyphs">80</text>
<text x="1651.5" y="859.2" font-size="10.4" fill="#000" textLength="10" lengthAdjust="spacingAndGlyphs">50</text>
<text x="1651.5" y="908.5" font-size="10.4" fill="#000" textLength="10" lengthAdjust="spacingAndGlyphs">15</text>
<text x="1652" y="923.2" font-size="10.4" fill="#000" textLength="5" lengthAdjust="spacingAndGlyphs">0</text>
<g shape-rendering="crispEdges">
<rect x="53" y="927" width="1" height="3" fill="#000"/>
<rect x="117" y="927" width="1" height="3" fill="#000"/>
<rect x="181" y="927" width="1" height="3" fill="#000"/>
<rect x="245" y="927" width="1" height="3" fill="#000"/>
<rect x="309" y="927" width="1" height="3" fill="#000"/>
<rect x="373" y="927" width="1" height="3" fill="#000"/>
<rect x="437" y="927" width="1" height="3" fill="#000"/>
<rect x="501" y="927" width="1" height="3" fill="#000"/>
<rect x="565" y="927" width="1" height="3" fill="#000"/>
<rect x="629" y="927" width="1" height="3" fill="#000"/>
<rect x="693" y="927" width="1" height="3" fill="#000"/>
<rect x="757" y="927" width="1" height="3" fill="#000"/>
<rect x="821" y="927" width="1" height="3" fill="#000"/>
<rect x="885" y="927" width="1" height="3" fill="#000"/>
<rect x="949" y="927" width="1" height="3" fill="#000"/>
<rect x="1013" y="927" width="1" height="3" fill="#000"/>
<rect x="1077" y="927" width="1" height="3" fill="#000"/>
<rect x="1141" y="927" width="1" height="3" fill="#000"/>
<rect x="1205" y="927" width="1" height="3" fill="#000"/>
<rect x="1269" y="927" width="1" height="3" fill="#000"/>
<rect x="1333" y="927" width="1" height="3" fill="#000"/>
<rect x="1397" y="927" width="1" height="3" fill="#000"/>
</g>
<text x="52.5" y="938" font-size="10.4" fill="#000" textLength="53.4" lengthAdjust="spacingAndGlyphs">14 Jan 16:00</text>
<text x="116.5" y="938" font-size="10.4" fill="#000" textLength="53.4" lengthAdjust="spacingAndGlyphs">18 Jan 00:00</text>
<text x="180.5" y="938" font-size="10.4" fill="#000" textLength="53.4" lengthAdjust="spacingAndGlyphs">19 Jan 08:00</text>
<text x="244.5" y="938" font-size="10.4" fill="#000" textLength="53.4" lengthAdjust="spacingAndGlyphs">20 Jan 16:00</text>
<text x="308.5" y="938" font-size="10.4" fill="#000" textLength="53.4" lengthAdjust="spacingAndGlyphs">24 Jan 00:00</text>
<text x="372.5" y="938" font-size="10.4" fill="#000" textLength="53.4" lengthAdjust="spacingAndGlyphs">25 Jan 08:00</text>
<text x="436.5" y="938" font-size="10.4" fill="#000" textLength="53.4" lengthAdjust="spacingAndGlyphs">26 Jan 16:00</text>
<text x="500.5" y="938" font-size="10.4" fill="#000" textLength="53.4" lengthAdjust="spacingAndGlyphs">28 Jan 00:00</text>
<text x="564.5" y="938" font-size="10.4" fill="#000" textLength="53.4" lengthAdjust="spacingAndGlyphs">31 Jan 08:00</text>
<text x="628.5" y="938" font-size="10.4" fill="#000" textLength="49.0" lengthAdjust="spacingAndGlyphs">1 Feb 16:00</text>
<text x="692.5" y="938" font-size="10.4" fill="#000" textLength="49.0" lengthAdjust="spacingAndGlyphs">3 Feb 00:00</text>
<text x="756.5" y="938" font-size="10.4" fill="#000" textLength="49.0" lengthAdjust="spacingAndGlyphs">4 Feb 08:00</text>
<text x="820.5" y="938" font-size="10.4" fill="#000" textLength="49.0" lengthAdjust="spacingAndGlyphs">7 Feb 16:00</text>
<text x="884.5" y="938" font-size="10.4" fill="#000" textLength="49.0" lengthAdjust="spacingAndGlyphs">9 Feb 00:00</text>
<text x="948.5" y="938" font-size="10.4" fill="#000" textLength="53.4" lengthAdjust="spacingAndGlyphs">10 Feb 08:00</text>
<text x="1012.5" y="938" font-size="10.4" fill="#000" textLength="53.4" lengthAdjust="spacingAndGlyphs">11 Feb 16:00</text>
<text x="1076.5" y="938" font-size="10.4" fill="#000" textLength="53.4" lengthAdjust="spacingAndGlyphs">15 Feb 00:00</text>
<text x="1140.5" y="938" font-size="10.4" fill="#000" textLength="53.4" lengthAdjust="spacingAndGlyphs">16 Feb 08:00</text>
<text x="1204.5" y="938" font-size="10.4" fill="#000" textLength="53.4" lengthAdjust="spacingAndGlyphs">17 Feb 16:00</text>
<text x="1268.5" y="938" font-size="10.4" fill="#000" textLength="53.4" lengthAdjust="spacingAndGlyphs">21 Feb 00:00</text>
<text x="1332.5" y="938" font-size="10.4" fill="#000" textLength="53.4" lengthAdjust="spacingAndGlyphs">22 Feb 08:00</text>
<text x="1396.5" y="938" font-size="10.4" fill="#000" textLength="53.4" lengthAdjust="spacingAndGlyphs">23 Feb 16:00</text>
<text x="1" y="938" font-size="10.4" fill="#000" textLength="37" lengthAdjust="spacingAndGlyphs">Jan 2022</text>
<g>
<line x1="1385.0" y1="206.5" x2="1440.9" y2="541.7" stroke="#ff0000" stroke-width="3.2" stroke-linecap="butt"/>
<polygon points="1443.0,554.5 1435.6,540.5 1445.5,538.9" fill="#ff0000"/>
<line x1="1443.0" y1="552.0" x2="1450.0" y2="420.0" stroke="#ff0000" stroke-width="3.0" stroke-linecap="butt"/>
<polygon points="1450.5,410.0 1454.9,422.2 1444.9,421.7" fill="#ff0000"/>
<line x1="1457.0" y1="405.0" x2="1466.1" y2="423.5" stroke="#ff0000" stroke-width="3.0" stroke-linecap="butt"/>
<polygon points="1470.5,432.5 1460.7,423.9 1469.7,419.5" fill="#ff0000"/>
<line x1="1400.0" y1="665.0" x2="1463.2" y2="780.8" stroke="#ff0000" stroke-width="3.1" stroke-linecap="butt"/>
<polygon points="1468.5,790.5 1457.9,781.5 1466.7,776.7" fill="#ff0000"/>
<line x1="1364.0" y1="846.5" x2="1432.0" y2="903.0" stroke="#ff0000" stroke-width="3.1" stroke-linecap="butt"/>
<polygon points="1440.5,910.0 1427.3,905.5 1433.7,897.8" fill="#ff0000"/>
<line x1="1440.0" y1="909.0" x2="1449.9" y2="889.9" stroke="#ff0000" stroke-width="3.1" stroke-linecap="butt"/>
<polygon points="1454.5,881.0 1453.4,894.0 1444.5,889.4" fill="#ff0000"/>
</g>
<g id="panel">
<rect x="0" y="45" width="211" height="57" fill="#fff" shape-rendering="crispEdges"/>
<rect x="0" y="45" width="44" height="24" fill="#b40a10" shape-rendering="crispEdges"/>
<rect x="0" y="46" width="43" height="22" fill="url(#gbtn)" shape-rendering="crispEdges"/>
<rect x="0" y="68" width="40" height="1" fill="#8a0000" shape-rendering="crispEdges"/>
<text x="4.3" y="60.8" font-size="11.5" fill="#fff" textLength="25.5" lengthAdjust="spacingAndGlyphs">SELL</text>
<rect x="159" y="45" width="52" height="24" fill="#b40a10" shape-rendering="crispEdges"/>
<rect x="160" y="46" width="50" height="22" fill="url(#gbtn)" shape-rendering="crispEdges"/>
<rect x="163" y="68" width="44" height="1" fill="#8a0000" shape-rendering="crispEdges"/>
<text x="172.7" y="60.8" font-size="11.5" fill="#fff" textLength="23.2" lengthAdjust="spacingAndGlyphs">BUY</text>
<rect x="46.5" y="45.5" width="110" height="21" fill="#fff" stroke="#a8acb4" shape-rendering="crispEdges"/>
<rect x="47" y="46" width="20" height="20" fill="url(#gspin)" shape-rendering="crispEdges"/>
<rect x="67" y="46" width="1" height="20" fill="#b8bcc4" shape-rendering="crispEdges"/>
<rect x="136" y="46" width="20" height="20" fill="url(#gspin)" shape-rendering="crispEdges"/>
<rect x="135" y="46" width="1" height="20" fill="#b8bcc4" shape-rendering="crispEdges"/>
<polygon points="53.5,54.5 59.5,54.5 56.5,57.5" fill="#5a6ab8"/>
<polygon points="142.5,57.5 148.5,57.5 145.5,54.5" fill="#5a6ab8"/>
<text x="131.8" y="60.2" font-size="12" fill="#000" text-anchor="end">1.00</text>
<rect x="0" y="69" width="101" height="33" fill="url(#gpx)" shape-rendering="crispEdges"/>
<rect x="103" y="69" width="108" height="33" fill="url(#gpx)" shape-rendering="crispEdges"/>
<rect x="0" y="69" width="40" height="1" fill="#ec5a5a" shape-rendering="crispEdges"/>
<rect x="163" y="69" width="44" height="1" fill="#ec5a5a" shape-rendering="crispEdges"/>
<text x="12.4" y="96.9" font-size="12.5" fill="#fff" textLength="23" lengthAdjust="spacingAndGlyphs" font-weight="bold">1.33</text>
<text x="40.7" y="97.3" font-size="33.5" fill="#fff" textLength="32.6" lengthAdjust="spacingAndGlyphs">82</text>
<text x="78.8" y="80.7" font-size="11" fill="#fff" textLength="6.8" lengthAdjust="spacingAndGlyphs" font-weight="bold">2</text>
<text x="122.2" y="96.9" font-size="12.5" fill="#fff" textLength="23" lengthAdjust="spacingAndGlyphs" font-weight="bold">1.33</text>
<text x="151.2" y="97.2" font-size="33.5" fill="#fff" textLength="32.9" lengthAdjust="spacingAndGlyphs">85</text>
<text x="190" y="80.9" font-size="11" fill="#fff" textLength="6.6" lengthAdjust="spacingAndGlyphs" font-weight="bold">0</text>
</g>
</svg></body></html>
